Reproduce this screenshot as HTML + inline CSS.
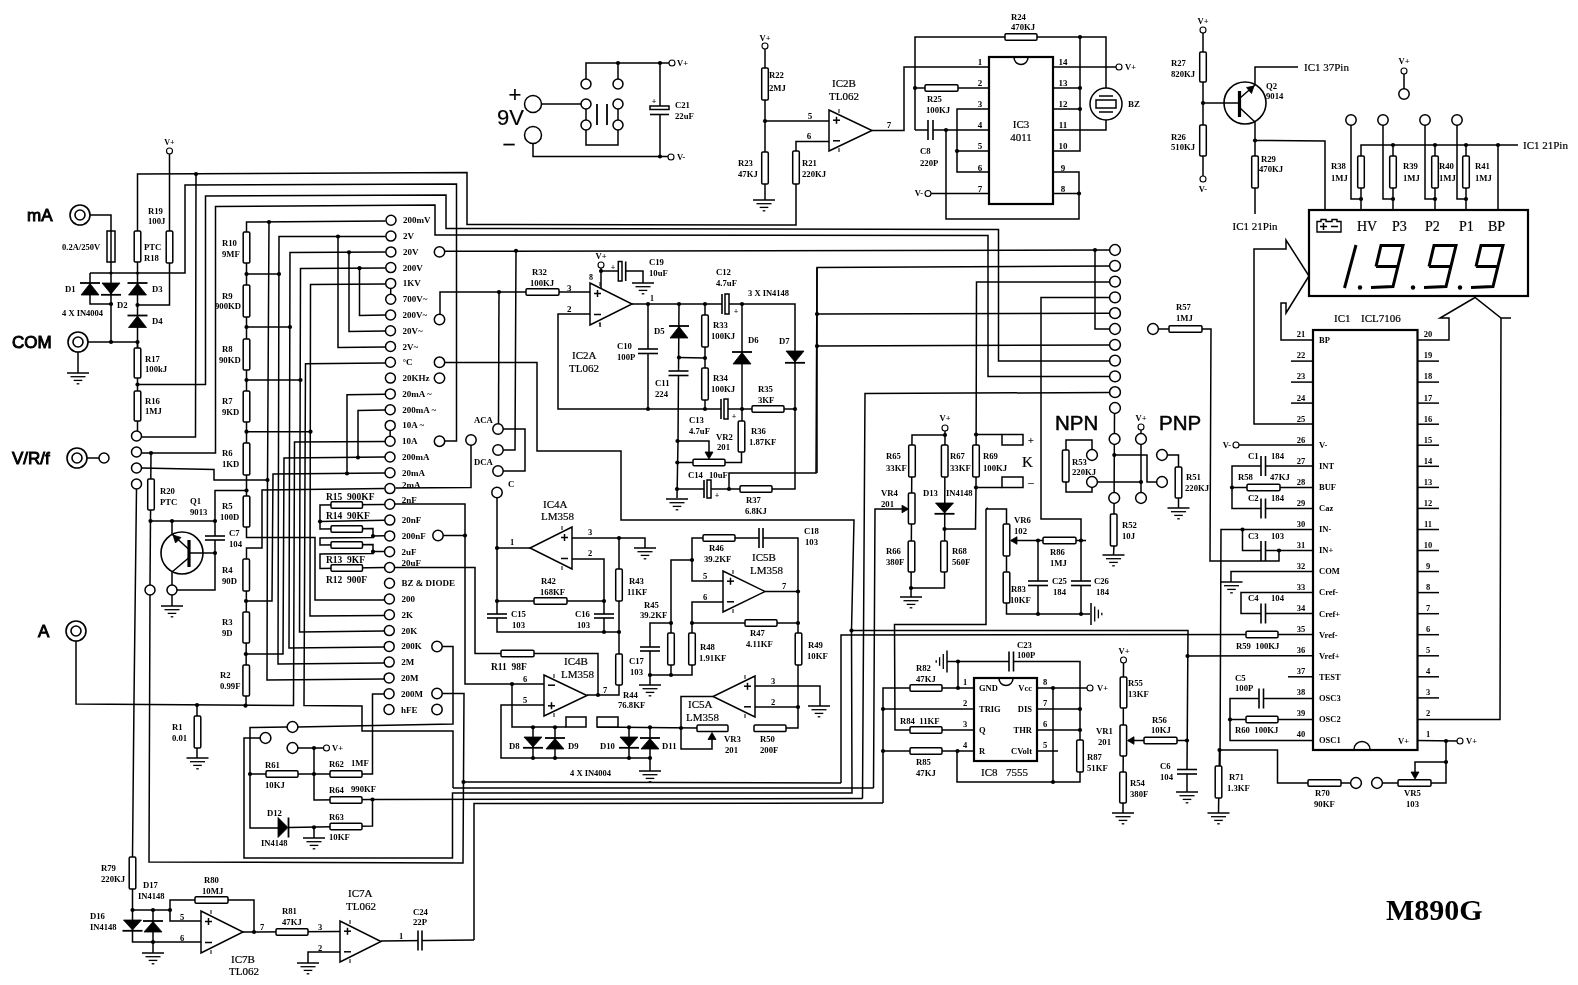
<!DOCTYPE html>
<html><head><meta charset="utf-8"><title>M890G</title>
<style>html,body{margin:0;padding:0;background:#fff;font-family:"Liberation Serif",serif}svg{display:block;filter:grayscale(1)}</style></head>
<body>
<svg width="1578" height="985" viewBox="0 0 1578 985">
<rect x="0" y="0" width="1578" height="985" fill="#fff" stroke="none"/>
<g fill="none" stroke="#000" stroke-width="1.5" stroke-linejoin="miter" stroke-linecap="butt">
<circle cx="80" cy="215" r="10" fill="#fff" stroke-width="1.6"/>
<circle cx="80" cy="215" r="5" fill="#fff" stroke-width="1.6"/>
<circle cx="78" cy="342" r="10" fill="#fff" stroke-width="1.6"/>
<circle cx="78" cy="342" r="5" fill="#fff" stroke-width="1.6"/>
<circle cx="77" cy="458" r="10" fill="#fff" stroke-width="1.6"/>
<circle cx="77" cy="458" r="5" fill="#fff" stroke-width="1.6"/>
<circle cx="76" cy="631" r="10" fill="#fff" stroke-width="1.6"/>
<circle cx="76" cy="631" r="5" fill="#fff" stroke-width="1.6"/>
<polyline points="169.5,154 169.5,305 137.5,305"/>
<circle cx="169.5" cy="151" r="3" fill="#fff" stroke-width="1.1"/>
<rect x="166.2" y="231" width="6.6" height="32" fill="#fff" rx="1.2"/>
<polyline points="137.5,348 137.5,174 467,172.5 467,224.5 796,225 796,141.5 829,141.5"/>
<circle cx="196" cy="174" r="2.1" fill="#000" stroke="none"/>
<polyline points="196,174 195.5,437 141.5,437"/>
<polyline points="90,273 185,273 185,185 456.5,184 456.5,441 444.5,441"/>
<polyline points="137.5,384.5 205.5,384.5 205.5,196 446,195 446,228.5 998.5,229.5 998.5,361 1109.5,361"/>
<polyline points="141.5,453 215.5,453 215.5,206.5 435,205 435,235 988,235.5 988,376.5 1109.5,376.5"/>
<polyline points="90,215 111,215 111,342"/>
<rect x="107" y="231" width="8" height="31" fill="#fff"/>
<polyline points="111,231 111,262"/>
<rect x="134.2" y="231" width="6.6" height="31" fill="#fff" rx="1.2"/>
<polyline points="90,273 90,304 111,304"/>
<circle cx="111" cy="304" r="2.1" fill="#000" stroke="none"/>
<circle cx="137.5" cy="305" r="2.1" fill="#000" stroke="none"/>
<circle cx="111" cy="273" r="1.6" fill="#000" stroke="none"/>
<circle cx="137.5" cy="273" r="1.6" fill="#000" stroke="none"/>
<polyline points="80,283 100,283" stroke-width="1.8"/>
<polygon points="90,283.5 81,295 99,295" fill="#000" stroke-width="0.8"/>
<polygon points="102,283 120,283 111,294" fill="#000" stroke-width="0.8"/>
<polyline points="101,294.8 121,294.8" stroke-width="1.8"/>
<polyline points="127.5,283 147.5,283" stroke-width="1.8"/>
<polygon points="137.5,283.5 128.5,295 146.5,295" fill="#000" stroke-width="0.8"/>
<polyline points="127.5,315.5 147.5,315.5" stroke-width="1.8"/>
<polygon points="137.5,316 128.5,327.5 146.5,327.5" fill="#000" stroke-width="0.8"/>
<polyline points="88,342 137.5,342"/>
<circle cx="111" cy="342" r="2.1" fill="#000" stroke="none"/>
<circle cx="137.5" cy="342" r="2.1" fill="#000" stroke="none"/>
<polyline points="78,352 78,373"/>
<polyline points="67,373 89,373"/>
<polyline points="70.5,376.7 85.5,376.7" stroke-width="1.3"/>
<polyline points="73.7,380.4 82.3,380.4" stroke-width="1.3"/>
<polyline points="76.7,383.8 79.3,383.8" stroke-width="1.3"/>
<polyline points="137.5,342 137.5,431"/>
<rect x="134.2" y="348" width="6.6" height="30" fill="#fff" rx="1.2"/>
<circle cx="137.5" cy="384.5" r="2.1" fill="#000" stroke="none"/>
<rect x="134.2" y="391" width="6.6" height="30" fill="#fff" rx="1.2"/>
<polyline points="87,458 99,458"/>
<circle cx="104" cy="458" r="5" fill="#fff"/>
<polyline points="136.5,489 134,700 132.5,857"/>
<polyline points="141.5,468 214,469.5 214,480 267.5,480"/>
<circle cx="267.5" cy="480" r="2.1" fill="#000" stroke="none"/>
<circle cx="151" cy="453" r="2.1" fill="#000" stroke="none"/>
<polyline points="151,453 150,585"/>
<rect x="147.7" y="479" width="6.6" height="31" fill="#fff" rx="1.2"/>
<polyline points="150,595 149,862 463,863 464,693.5 442,693.5"/>
<circle cx="150.5" cy="521" r="2.1" fill="#000" stroke="none"/>
<polyline points="150.5,521 215,521"/>
<circle cx="172" cy="521" r="2.1" fill="#000" stroke="none"/>
<circle cx="215" cy="521" r="2.1" fill="#000" stroke="none"/>
<polyline points="246.5,490.5 215,490.5 215,590 177,590"/>
<circle cx="246.5" cy="490.5" r="2.1" fill="#000" stroke="none"/>
<rect x="213" y="536" width="4" height="4" fill="#fff" stroke-width="0"/>
<rect x="213" y="536" width="4" height="4" fill="#fff" stroke="none"/>
<polyline points="205,536 225,536" stroke-width="1.6"/>
<polyline points="205,540 225,540" stroke-width="1.6"/>
<circle cx="182" cy="553" r="21" fill="none" stroke-width="1.6"/>
<polyline points="172,521 172,534 188.5,549"/>
<polygon points="173,535 181,537.5 175.5,543" fill="#000" stroke-width="0.8"/>
<polyline points="189,540 189,567" stroke-width="3.2"/>
<polyline points="189,553 215,553"/>
<circle cx="215" cy="553" r="2.1" fill="#000" stroke="none"/>
<polyline points="188.5,558 172,572 172,585"/>
<polyline points="172,595 172,606"/>
<polyline points="161,606 183,606"/>
<polyline points="164.5,609.7 179.5,609.7" stroke-width="1.3"/>
<polyline points="167.7,613.4 176.3,613.4" stroke-width="1.3"/>
<polyline points="170.7,616.8 173.3,616.8" stroke-width="1.3"/>
<circle cx="136.5" cy="436" r="5" fill="#fff"/>
<circle cx="136.5" cy="452" r="5" fill="#fff"/>
<circle cx="136.5" cy="468" r="5" fill="#fff"/>
<circle cx="136.5" cy="484" r="5" fill="#fff"/>
<circle cx="150" cy="590" r="5" fill="#fff"/>
<circle cx="172" cy="590" r="5" fill="#fff"/>
<polyline points="76,641 76,704 293.5,705.5 294.5,442 385.5,441.5"/>
<circle cx="197" cy="705" r="2.1" fill="#000" stroke="none"/>
<polyline points="197,705 197,758"/>
<rect x="194.2" y="716" width="6.6" height="32" fill="#fff" rx="1.2"/>
<polyline points="186.5,758 208.5,758"/>
<polyline points="190,761.7 205,761.7" stroke-width="1.3"/>
<polyline points="193.2,765.4 201.8,765.4" stroke-width="1.3"/>
<polyline points="196.2,768.8 198.8,768.8" stroke-width="1.3"/>
<polyline points="385.5,221 246.5,222 246.5,537.5 315,537.5 315,600 384,600"/>
<circle cx="269" cy="222" r="2.1" fill="#000" stroke="none"/>
<rect x="243.2" y="232" width="6.6" height="31" fill="#fff" rx="1.2"/>
<rect x="243.2" y="285" width="6.6" height="32" fill="#fff" rx="1.2"/>
<rect x="243.2" y="339" width="6.6" height="31" fill="#fff" rx="1.2"/>
<rect x="243.2" y="391" width="6.6" height="31" fill="#fff" rx="1.2"/>
<rect x="243.2" y="443" width="6.6" height="32" fill="#fff" rx="1.2"/>
<rect x="243.2" y="496" width="6.6" height="31" fill="#fff" rx="1.2"/>
<circle cx="246.5" cy="274" r="2.1" fill="#000" stroke="none"/>
<polyline points="246.5,274 279,274"/>
<circle cx="279" cy="274" r="2.1" fill="#000" stroke="none"/>
<circle cx="246.5" cy="327" r="2.1" fill="#000" stroke="none"/>
<polyline points="246.5,327 290,327"/>
<circle cx="290" cy="327" r="2.1" fill="#000" stroke="none"/>
<circle cx="246.5" cy="380" r="2.1" fill="#000" stroke="none"/>
<polyline points="246.5,380 300.5,380"/>
<circle cx="300.5" cy="380" r="2.1" fill="#000" stroke="none"/>
<circle cx="246.5" cy="431.7" r="2.1" fill="#000" stroke="none"/>
<polyline points="246.5,431.7 310.5,431.7"/>
<circle cx="310.5" cy="431.7" r="2.1" fill="#000" stroke="none"/>
<polyline points="384.5,488.5 262,490 262,548 246.5,548 246,706"/>
<rect x="242.9" y="559" width="6.6" height="32" fill="#fff" rx="1.2"/>
<rect x="242.9" y="612" width="6.6" height="31" fill="#fff" rx="1.2"/>
<rect x="242.9" y="665" width="6.6" height="31" fill="#fff" rx="1.2"/>
<circle cx="246" cy="601" r="2.1" fill="#000" stroke="none"/>
<circle cx="245.8" cy="654" r="2.1" fill="#000" stroke="none"/>
<circle cx="245.5" cy="705.7" r="2.1" fill="#000" stroke="none"/>
<polyline points="246,601 272,601 273,474 385,473"/>
<polyline points="245.8,654 283,654 284,458 385,457"/>
<polyline points="269,222 267.5,480 267,680 384,679"/>
<polyline points="385.5,236.5 279,236.5 278,664 384,663"/>
<circle cx="338" cy="236.5" r="2.1" fill="#000" stroke="none"/>
<polyline points="385.5,252 290,252.5 289,648 384,647"/>
<circle cx="349" cy="252.3" r="2.1" fill="#000" stroke="none"/>
<polyline points="385.5,268 300.5,268.5 299.5,632 384,631"/>
<circle cx="359.5" cy="268.2" r="2.1" fill="#000" stroke="none"/>
<polyline points="385.5,284 310.5,284.5 310,616 384,615.5"/>
<polyline points="385.5,363 305.5,363.8 304,705.5 362,706 362,731 453,731 453,788"/>
<polyline points="338,236.5 338,347.5 385.5,347"/>
<polyline points="349,252.3 349,331.5 385.5,331"/>
<polyline points="359.5,268.2 359.5,315.5 385.5,315"/>
<polyline points="385.5,394.3 347,394.7 347,473.5"/>
<circle cx="347" cy="473.5" r="2.1" fill="#000" stroke="none"/>
<polyline points="385.5,410 358,410.5 358,457.5"/>
<circle cx="358" cy="457.5" r="2.1" fill="#000" stroke="none"/>
<polyline points="390.7,283.4 390.7,299.2"/>
<polyline points="390.2,425.4 390.1,441.2"/>
<polyline points="395,504 465,504 465,684 544,684"/>
<circle cx="465" cy="535.5" r="2.1" fill="#000" stroke="none"/>
<polyline points="443,535.5 465,535.5"/>
<polyline points="395,567.5 475,567.5 475,653.5 598,653.5 598,695"/>
<rect x="501" y="650.2" width="33" height="6.6" fill="#fff" rx="1.2"/>
<polyline points="385,504.5 320,505 320,529 373,528.5 373,536 385,535.7"/>
<circle cx="320" cy="521.5" r="2.1" fill="#000" stroke="none"/>
<polyline points="320,521.5 385,520.3"/>
<polyline points="373,536 373,537.5 320,538 320,545 373,544.5 373,551.5 385,551.5"/>
<circle cx="373" cy="536" r="2.1" fill="#000" stroke="none"/>
<circle cx="373" cy="551.7" r="2.1" fill="#000" stroke="none"/>
<polyline points="373,552 373,553.5 320,554 320,568.5 385,567.5"/>
<rect x="331" y="501.8" width="31.5" height="6.5" fill="#fff" rx="1.2"/>
<rect x="331" y="525.8" width="31.5" height="6.5" fill="#fff" rx="1.2"/>
<rect x="331" y="541.8" width="31.5" height="6.5" fill="#fff" rx="1.2"/>
<rect x="331" y="564.8" width="31.5" height="6.5" fill="#fff" rx="1.2"/>
<circle cx="391" cy="220.3" r="5" fill="#fff"/>
<circle cx="390.9" cy="236.1" r="5" fill="#fff"/>
<circle cx="390.9" cy="251.9" r="5" fill="#fff"/>
<circle cx="390.8" cy="267.6" r="5" fill="#fff"/>
<circle cx="390.7" cy="283.4" r="5" fill="#fff"/>
<circle cx="390.7" cy="299.2" r="5" fill="#fff"/>
<circle cx="390.6" cy="315" r="5" fill="#fff"/>
<circle cx="390.5" cy="330.8" r="5" fill="#fff"/>
<circle cx="390.5" cy="346.5" r="5" fill="#fff"/>
<circle cx="390.4" cy="362.3" r="5" fill="#fff"/>
<circle cx="390.4" cy="378.1" r="5" fill="#fff"/>
<circle cx="390.3" cy="393.9" r="5" fill="#fff"/>
<circle cx="390.2" cy="409.7" r="5" fill="#fff"/>
<circle cx="390.2" cy="425.4" r="5" fill="#fff"/>
<circle cx="390.1" cy="441.2" r="5" fill="#fff"/>
<circle cx="390" cy="457" r="5" fill="#fff"/>
<circle cx="390" cy="472.8" r="5" fill="#fff"/>
<circle cx="389.9" cy="488.6" r="5" fill="#fff"/>
<circle cx="389.8" cy="504.3" r="5" fill="#fff"/>
<circle cx="389.8" cy="520.1" r="5" fill="#fff"/>
<circle cx="389.7" cy="535.9" r="5" fill="#fff"/>
<circle cx="389.6" cy="551.7" r="5" fill="#fff"/>
<circle cx="389.6" cy="567.5" r="5" fill="#fff"/>
<circle cx="389.5" cy="583.2" r="5" fill="#fff"/>
<circle cx="389.4" cy="599" r="5" fill="#fff"/>
<circle cx="389.4" cy="614.8" r="5" fill="#fff"/>
<circle cx="389.3" cy="630.6" r="5" fill="#fff"/>
<circle cx="389.2" cy="646.4" r="5" fill="#fff"/>
<circle cx="389.2" cy="662.1" r="5" fill="#fff"/>
<circle cx="389.1" cy="677.9" r="5" fill="#fff"/>
<circle cx="389.1" cy="693.7" r="5" fill="#fff"/>
<circle cx="389" cy="709.5" r="5" fill="#fff"/>
<polyline points="444.5,251.3 1109.5,250"/>
<circle cx="516" cy="250.8" r="2.1" fill="#000" stroke="none"/>
<polyline points="516,250.8 515,450 503,450"/>
<polyline points="440,314.5 440,292 590,292"/>
<circle cx="499" cy="292" r="2.1" fill="#000" stroke="none"/>
<rect x="526" y="288.7" width="33" height="6.6" fill="#fff" rx="1.2"/>
<polyline points="499,292 498.5,424"/>
<polyline points="444.5,362.5 537,362.5 537,451 621,451 621,520 854,520 851.5,630.5"/>
<polyline points="471,445 471,487.5 395.5,488"/>
<polyline points="442,646.5 453,646.5 453,724 297,727"/>
<circle cx="439.5" cy="251.9" r="5.2" fill="#fff"/>
<circle cx="439.5" cy="319.5" r="5.2" fill="#fff"/>
<circle cx="439.5" cy="362.3" r="5.2" fill="#fff"/>
<circle cx="439.5" cy="378.1" r="5.2" fill="#fff"/>
<circle cx="439.5" cy="441.2" r="5.2" fill="#fff"/>
<circle cx="471" cy="440" r="5.2" fill="#fff"/>
<circle cx="438" cy="535.5" r="5.2" fill="#fff"/>
<circle cx="437" cy="646.5" r="5.2" fill="#fff"/>
<circle cx="437" cy="693.5" r="5.2" fill="#fff"/>
<circle cx="437" cy="709.5" r="5.2" fill="#fff"/>
<polyline points="503,429 525,429 525,471 503,471"/>
<polyline points="497,497.5 497,614"/>
<circle cx="498" cy="429" r="5.2" fill="#fff"/>
<circle cx="498" cy="450" r="5.2" fill="#fff"/>
<circle cx="498" cy="471" r="5.2" fill="#fff"/>
<circle cx="497" cy="492.5" r="5.2" fill="#fff"/>
<polyline points="542,104 581,104"/>
<polyline points="586,79 586,63 669,63"/>
<polyline points="618,63 618,79"/>
<circle cx="618" cy="63" r="2.1" fill="#000" stroke="none"/>
<circle cx="660" cy="63" r="2.1" fill="#000" stroke="none"/>
<polyline points="586,109 586,120"/>
<polyline points="618,109 618,120"/>
<polyline points="586,130 586,145 618,145 618,130"/>
<polyline points="597,104 597,125" stroke-width="1.8"/>
<polyline points="607,104 607,125" stroke-width="1.8"/>
<polyline points="533,143 533,156.5 668,156.5"/>
<circle cx="660" cy="156.5" r="2.1" fill="#000" stroke="none"/>
<polyline points="660,63 660,156.5"/>
<rect x="656" y="107" width="8" height="7.5" fill="#fff" stroke="none"/>
<rect x="650" y="106" width="19" height="3.5" fill="#fff"/>
<polyline points="650,114.5 669,114.5" stroke-width="1.6"/>
<circle cx="533" cy="104" r="8.5" fill="#fff"/>
<circle cx="533" cy="135" r="8.5" fill="#fff"/>
<circle cx="586" cy="84" r="5" fill="#fff"/>
<circle cx="586" cy="104" r="5" fill="#fff"/>
<circle cx="586" cy="125" r="5" fill="#fff"/>
<circle cx="618" cy="84" r="5" fill="#fff"/>
<circle cx="618" cy="104" r="5" fill="#fff"/>
<circle cx="618" cy="125" r="5" fill="#fff"/>
<circle cx="672" cy="63" r="3" fill="#fff" stroke-width="1.1"/>
<circle cx="671" cy="157" r="3" fill="#fff" stroke-width="1.1"/>
<polyline points="765,49 765,200"/>
<circle cx="765" cy="46" r="3" fill="#fff" stroke-width="1.1"/>
<rect x="761.7" y="68" width="6.6" height="32" fill="#fff" rx="1.2"/>
<rect x="761.7" y="152" width="6.6" height="32" fill="#fff" rx="1.2"/>
<circle cx="765" cy="121" r="2.1" fill="#000" stroke="none"/>
<polyline points="753,200 775,200"/>
<polyline points="756.5,203.7 771.5,203.7" stroke-width="1.3"/>
<polyline points="759.7,207.4 768.3,207.4" stroke-width="1.3"/>
<polyline points="762.7,210.8 765.3,210.8" stroke-width="1.3"/>
<polyline points="765,121 829,121"/>
<rect x="792.7" y="151" width="6.6" height="33" fill="#fff" rx="1.2"/>
<polygon points="829,110 829,151 872,130.5" fill="#fff"/>
<polyline points="833,120.2 840,120.2"/>
<polyline points="836.5,116.8 836.5,123.8"/>
<polyline points="833,140.8 840,140.8"/>
<polyline points="839,109 839,113" stroke-width="1"/>
<polyline points="839,148 839,152" stroke-width="1"/>
<polyline points="872,130.5 904,130.5 904,67 989,67"/>
<polyline points="915,130 915,37 1106,37 1106,88"/>
<rect x="1005" y="33.7" width="32" height="6.6" fill="#fff" rx="1.2"/>
<circle cx="915" cy="88" r="2.1" fill="#000" stroke="none"/>
<circle cx="1080" cy="37" r="2.1" fill="#000" stroke="none"/>
<polyline points="915,88 989,88"/>
<rect x="925" y="84.7" width="33" height="6.6" fill="#fff" rx="1.2"/>
<polyline points="915,130 989,130"/>
<rect x="928" y="128" width="5" height="4" fill="#fff" stroke="none"/>
<polyline points="928,120 928,140" stroke-width="1.6"/>
<polyline points="933,120 933,140" stroke-width="1.6"/>
<circle cx="946" cy="130" r="2.1" fill="#000" stroke="none"/>
<polyline points="946,130 946,219 1079,219 1079,172 1053,172"/>
<polyline points="1053,193.5 1079,193.5"/>
<circle cx="1079" cy="193.5" r="2.1" fill="#000" stroke="none"/>
<polyline points="989,109 957,109 957,172 989,172"/>
<polyline points="957,151 989,151"/>
<circle cx="957" cy="151" r="2.1" fill="#000" stroke="none"/>
<polyline points="931,193.5 989,193.5"/>
<circle cx="928" cy="193.5" r="3" fill="#fff" stroke-width="1.1"/>
<polyline points="1053,67 1116,67"/>
<circle cx="1119" cy="67" r="3" fill="#fff" stroke-width="1.1"/>
<polyline points="1080,37 1080,151 1053,151"/>
<polyline points="1053,88 1080,88"/>
<polyline points="1053,109 1080,109"/>
<circle cx="1080" cy="88" r="2.1" fill="#000" stroke="none"/>
<circle cx="1080" cy="109" r="2.1" fill="#000" stroke="none"/>
<polyline points="1053,130 1106,130 1106,120"/>
<circle cx="1106" cy="104" r="16" fill="#fff" stroke-width="1.5"/>
<rect x="1096" y="100" width="20" height="8" fill="#fff" stroke-width="1.5"/>
<polyline points="1099,96 1113,96"/>
<polyline points="1099,112 1113,112"/>
<rect x="989" y="57" width="64" height="147" fill="#fff" stroke-width="2.2"/>
<path d="M1014,57.5 A7,7 0 0 0 1028,57.5" fill="none" stroke-width="1.5"/>
<polyline points="1203,33 1203,176"/>
<circle cx="1203" cy="30" r="3" fill="#fff" stroke-width="1.1"/>
<circle cx="1203" cy="179" r="3" fill="#fff" stroke-width="1.1"/>
<rect x="1199.7" y="52" width="6.6" height="30" fill="#fff" rx="1.2"/>
<rect x="1199.7" y="125" width="6.6" height="31" fill="#fff" rx="1.2"/>
<circle cx="1203" cy="103" r="2.1" fill="#000" stroke="none"/>
<polyline points="1203,103 1239,103"/>
<polyline points="1239.5,91 1239.5,117" stroke-width="3.2"/>
<circle cx="1245" cy="103" r="21" fill="none" stroke-width="1.6"/>
<polyline points="1240,98 1255,85 1255,67 1298,67"/>
<polygon points="1254,86 1246.5,87.5 1251.5,93.5" fill="#000" stroke-width="0.8"/>
<polyline points="1240,108 1255,122 1255,214"/>
<circle cx="1255" cy="140.5" r="2.1" fill="#000" stroke="none"/>
<rect x="1251.7" y="156" width="6.6" height="32" fill="#fff" rx="1.2"/>
<polyline points="1255,140.5 1325,141 1325,209"/>
<polyline points="1404,74 1404,89"/>
<circle cx="1404" cy="71" r="3" fill="#fff" stroke-width="1.1"/>
<circle cx="1404" cy="94" r="5.2" fill="#fff"/>
<polyline points="1361,209 1361,145 1518,145"/>
<polyline points="1498,145 1498,209"/>
<circle cx="1498" cy="145" r="2.1" fill="#000" stroke="none"/>
<polyline points="1351,125 1351,199 1361,199"/>
<circle cx="1361" cy="199" r="2.1" fill="#000" stroke="none"/>
<rect x="1357.7" y="156" width="6.6" height="32" fill="#fff" rx="1.2"/>
<circle cx="1351" cy="120" r="5.2" fill="#fff"/>
<polyline points="1383,125 1383,199 1393,199"/>
<polyline points="1393,145 1393,209"/>
<circle cx="1393" cy="145" r="2.1" fill="#000" stroke="none"/>
<circle cx="1393" cy="199" r="2.1" fill="#000" stroke="none"/>
<rect x="1389.7" y="156" width="6.6" height="32" fill="#fff" rx="1.2"/>
<circle cx="1383" cy="120" r="5.2" fill="#fff"/>
<polyline points="1425,125 1425,199 1435,199"/>
<polyline points="1435,145 1435,209"/>
<circle cx="1435" cy="145" r="2.1" fill="#000" stroke="none"/>
<circle cx="1435" cy="199" r="2.1" fill="#000" stroke="none"/>
<rect x="1431.7" y="156" width="6.6" height="32" fill="#fff" rx="1.2"/>
<circle cx="1425" cy="120" r="5.2" fill="#fff"/>
<polyline points="1457,125 1457,199 1466,199"/>
<polyline points="1466,145 1466,209"/>
<circle cx="1466" cy="145" r="2.1" fill="#000" stroke="none"/>
<circle cx="1466" cy="199" r="2.1" fill="#000" stroke="none"/>
<rect x="1462.7" y="156" width="6.6" height="32" fill="#fff" rx="1.2"/>
<circle cx="1457" cy="120" r="5.2" fill="#fff"/>
<rect x="1309" y="210" width="219" height="86" fill="#fff" stroke-width="2.2"/>
<path d="M1317,232 V221.5 H1321 V219.5 H1326 V221.5 H1332 V219.5 H1337 V221.5 H1341 V232 Z" fill="none" stroke-width="1.4"/>
<polyline points="1320,226.5 1327,226.5" stroke-width="1.5"/>
<polyline points="1323.5,223 1323.5,230" stroke-width="1.5"/>
<polyline points="1331,226.5 1338,226.5" stroke-width="1.5"/>
<polyline points="1356,245 1344.5,288" stroke-width="3"/>
<path d="M1376,266.5 L1381,245.5 L1403,245.5 L1393,286.5 L1371,287.5 M1376,266.5 L1398,266.5" fill="none" stroke-width="3"/>
<path d="M1429,266.5 L1434,245.5 L1456,245.5 L1446,286.5 L1424,287.5 M1429,266.5 L1451,266.5" fill="none" stroke-width="3"/>
<path d="M1476,266.5 L1481,245.5 L1503,245.5 L1493,286.5 L1471,287.5 M1476,266.5 L1498,266.5" fill="none" stroke-width="3"/>
<circle cx="1360" cy="287.5" r="2.2" fill="#000" stroke="none"/>
<circle cx="1413" cy="287.5" r="2.2" fill="#000" stroke="none"/>
<circle cx="1460" cy="287.5" r="2.2" fill="#000" stroke="none"/>
<polyline points="1313,424 1254,424 1254,249 1286,249 1286,240 1309,276 1286,313 1286,303 1281,303 1281,340 1313,340"/>
<polyline points="1418,340 1449,340 1449,318 1440,318 1475,297.5 1501,318 1511,318"/>
<polyline points="1501,318 1500,719.5 1417,719.5"/>
<polyline points="601,268 601,289"/>
<circle cx="601" cy="271" r="2.1" fill="#000" stroke="none"/>
<polyline points="601,271 643,271 643,283"/>
<polyline points="632,283 654,283"/>
<polyline points="635.5,286.7 650.5,286.7" stroke-width="1.3"/>
<polyline points="638.7,290.4 647.3,290.4" stroke-width="1.3"/>
<polyline points="641.7,293.8 644.3,293.8" stroke-width="1.3"/>
<rect x="618" y="269" width="8" height="4" fill="#fff" stroke="none"/>
<rect x="618.3" y="261.5" width="3.7" height="19.5" fill="#fff"/>
<polyline points="625.7,261.5 625.7,281" stroke-width="1.6"/>
<circle cx="601" cy="265" r="3" fill="#fff" stroke-width="1.1"/>
<polyline points="590,314 558,314 558,409 721,409"/>
<circle cx="648" cy="409" r="2.1" fill="#000" stroke="none"/>
<circle cx="705" cy="409" r="2.1" fill="#000" stroke="none"/>
<polygon points="590,283 590,325 632,304" fill="#fff"/>
<polyline points="594,293.5 601,293.5"/>
<polyline points="597.5,290 597.5,297"/>
<polyline points="594,314.5 601,314.5"/>
<polyline points="600,282 600,286" stroke-width="1"/>
<polyline points="600,322 600,326" stroke-width="1"/>
<polyline points="632,304 722,304"/>
<circle cx="648" cy="304" r="2.1" fill="#000" stroke="none"/>
<circle cx="679" cy="304" r="2.1" fill="#000" stroke="none"/>
<circle cx="705" cy="304" r="2.1" fill="#000" stroke="none"/>
<polyline points="648,304 648,409"/>
<rect x="646" y="349" width="4" height="4.5" fill="#fff" stroke-width="0"/>
<rect x="646" y="349" width="4" height="4.5" fill="#fff" stroke="none"/>
<polyline points="638,349 658,349" stroke-width="1.6"/>
<polyline points="638,353.5 658,353.5" stroke-width="1.6"/>
<polyline points="679,304 678,441 677,498"/>
<polyline points="669,326 689,326" stroke-width="1.8"/>
<polygon points="679,326.5 670,338 688,338" fill="#000" stroke-width="0.8"/>
<circle cx="679" cy="357.5" r="2.1" fill="#000" stroke="none"/>
<rect x="676.5" y="371" width="4" height="4.5" fill="#fff" stroke-width="0"/>
<rect x="676.5" y="371" width="4" height="4.5" fill="#fff" stroke="none"/>
<polyline points="668.5,371 688.5,371" stroke-width="1.6"/>
<polyline points="668.5,375.5 688.5,375.5" stroke-width="1.6"/>
<polyline points="705,304 705,409"/>
<rect x="701.7" y="315" width="6.6" height="32" fill="#fff" rx="1.2"/>
<rect x="701.7" y="368" width="6.6" height="32" fill="#fff" rx="1.2"/>
<circle cx="705" cy="358" r="2.1" fill="#000" stroke="none"/>
<polyline points="679,357.5 705,358"/>
<polyline points="729,304 795,304 795,489 772,489"/>
<rect x="722" y="302" width="7" height="4" fill="#fff" stroke="none"/>
<polyline points="722,294 722,314" stroke-width="1.6"/>
<rect x="725" y="294" width="4" height="20" fill="#fff"/>
<circle cx="742" cy="304" r="2.1" fill="#000" stroke="none"/>
<polyline points="742,304 742,421"/>
<polyline points="732,352 752,352" stroke-width="1.8"/>
<polygon points="742,352.5 733,364 751,364" fill="#000" stroke-width="0.8"/>
<polygon points="786,351 804,351 795,362" fill="#000" stroke-width="0.8"/>
<polyline points="785,362.8 805,362.8" stroke-width="1.8"/>
<polyline points="728,409 795,409"/>
<rect x="721" y="407" width="7" height="4" fill="#fff" stroke="none"/>
<polyline points="721,399 721,419" stroke-width="1.6"/>
<rect x="724" y="399" width="4" height="20" fill="#fff"/>
<circle cx="742" cy="409" r="2.1" fill="#000" stroke="none"/>
<circle cx="795" cy="409" r="2.1" fill="#000" stroke="none"/>
<rect x="752" y="405.7" width="32" height="6.6" fill="#fff" rx="1.2"/>
<rect x="738.2" y="421" width="6.6" height="31" fill="#fff" rx="1.2"/>
<polyline points="741.5,452 741.5,462.5 677,462.5"/>
<rect x="693" y="459.2" width="32" height="6.6" fill="#fff" rx="1.2"/>
<circle cx="677.5" cy="441" r="2.1" fill="#000" stroke="none"/>
<polyline points="677.5,441 709,441 709,453"/>
<polygon points="709,459 705,452 713,452" fill="#000" stroke-width="0.8"/>
<circle cx="677.3" cy="462.5" r="2.1" fill="#000" stroke="none"/>
<circle cx="677" cy="489" r="2.1" fill="#000" stroke="none"/>
<polyline points="677,489 740,489"/>
<rect x="704" y="487" width="7" height="4" fill="#fff" stroke="none"/>
<polyline points="704,480 704,498" stroke-width="1.6"/>
<rect x="707" y="480" width="4" height="18" fill="#fff"/>
<circle cx="729" cy="489" r="2.1" fill="#000" stroke="none"/>
<rect x="740" y="485.7" width="32" height="6.6" fill="#fff" rx="1.2"/>
<polyline points="729,489 729,473 816,473 817,268"/>
<polyline points="666,499 688,499"/>
<polyline points="669.5,502.7 684.5,502.7" stroke-width="1.3"/>
<polyline points="672.7,506.4 681.3,506.4" stroke-width="1.3"/>
<polyline points="675.7,509.8 678.3,509.8" stroke-width="1.3"/>
<circle cx="497" cy="548" r="2.1" fill="#000" stroke="none"/>
<polyline points="497,548 530,548"/>
<polygon points="572,527 572,569 530,548" fill="#fff"/>
<polyline points="561,537.5 568,537.5"/>
<polyline points="564.5,534 564.5,541"/>
<polyline points="561,558.5 568,558.5"/>
<polyline points="562,526 562,530" stroke-width="1"/>
<polyline points="562,566 562,570" stroke-width="1"/>
<polyline points="572,538 645,538 645,548"/>
<polyline points="634,548 656,548"/>
<polyline points="637.5,551.7 652.5,551.7" stroke-width="1.3"/>
<polyline points="640.7,555.4 649.3,555.4" stroke-width="1.3"/>
<polyline points="643.7,558.8 646.3,558.8" stroke-width="1.3"/>
<circle cx="619" cy="538" r="2.1" fill="#000" stroke="none"/>
<polyline points="572,559 604,559 604,632"/>
<polyline points="497,601 604,601"/>
<circle cx="497" cy="601" r="2.1" fill="#000" stroke="none"/>
<circle cx="604" cy="601" r="2.1" fill="#000" stroke="none"/>
<rect x="534" y="597.7" width="33" height="6.6" fill="#fff" rx="1.2"/>
<polyline points="497,614 497,632 619,632 619,538"/>
<rect x="495" y="614" width="4" height="4" fill="#fff" stroke-width="0"/>
<rect x="495" y="614" width="4" height="4" fill="#fff" stroke="none"/>
<polyline points="487,614 507,614" stroke-width="1.6"/>
<polyline points="487,618 507,618" stroke-width="1.6"/>
<rect x="602" y="614" width="4" height="4" fill="#fff" stroke-width="0"/>
<rect x="602" y="614" width="4" height="4" fill="#fff" stroke="none"/>
<polyline points="594,614 614,614" stroke-width="1.6"/>
<polyline points="594,618 614,618" stroke-width="1.6"/>
<circle cx="604" cy="632" r="2.1" fill="#000" stroke="none"/>
<circle cx="619" cy="632" r="2.1" fill="#000" stroke="none"/>
<rect x="615.7" y="569" width="6.6" height="32" fill="#fff" rx="1.2"/>
<polyline points="619,632 619,695 587,695"/>
<rect x="615.7" y="654" width="6.6" height="31" fill="#fff" rx="1.2"/>
<circle cx="598" cy="695" r="2.1" fill="#000" stroke="none"/>
<circle cx="512" cy="684" r="2.1" fill="#000" stroke="none"/>
<polygon points="544,675 544,716 587,695.5" fill="#fff"/>
<polyline points="548,705.8 555,705.8"/>
<polyline points="551.5,702.2 551.5,709.2"/>
<polyline points="548,685.2 555,685.2"/>
<polyline points="554,674 554,678" stroke-width="1"/>
<polyline points="554,713 554,717" stroke-width="1"/>
<polyline points="544,705 501,705 501,758 650,758 650,771"/>
<polyline points="639,771 661,771"/>
<polyline points="642.5,774.7 657.5,774.7" stroke-width="1.3"/>
<polyline points="645.7,778.4 654.3,778.4" stroke-width="1.3"/>
<polyline points="648.7,781.8 651.3,781.8" stroke-width="1.3"/>
<polyline points="512,684 512,727 566,727"/>
<polyline points="597,727 697,728"/>
<rect x="566" y="717" width="20" height="10" fill="#fff"/>
<rect x="597" y="717" width="21" height="10" fill="#fff"/>
<polyline points="533,727 533,758"/>
<circle cx="533" cy="727.3" r="2.1" fill="#000" stroke="none"/>
<circle cx="533" cy="758" r="2.1" fill="#000" stroke="none"/>
<polyline points="555,727 555,758"/>
<circle cx="555" cy="727.3" r="2.1" fill="#000" stroke="none"/>
<circle cx="555" cy="758" r="2.1" fill="#000" stroke="none"/>
<polyline points="629,727 629,758"/>
<circle cx="629" cy="727.3" r="2.1" fill="#000" stroke="none"/>
<circle cx="629" cy="758" r="2.1" fill="#000" stroke="none"/>
<polyline points="650,727 650,758"/>
<circle cx="650" cy="727.3" r="2.1" fill="#000" stroke="none"/>
<circle cx="650" cy="758" r="2.1" fill="#000" stroke="none"/>
<polygon points="524,737 542,737 533,747" fill="#000" stroke-width="0.8"/>
<polyline points="523,747.8 543,747.8" stroke-width="1.8"/>
<polyline points="545,738 565,738" stroke-width="1.8"/>
<polygon points="555,738.5 546,749 564,749" fill="#000" stroke-width="0.8"/>
<polygon points="620,737 638,737 629,747" fill="#000" stroke-width="0.8"/>
<polyline points="619,747.8 639,747.8" stroke-width="1.8"/>
<polyline points="640,738 660,738" stroke-width="1.8"/>
<polygon points="650,738.5 641,749 659,749" fill="#000" stroke-width="0.8"/>
<polyline points="723,581 692,581 692,538 798,538 798,728 786,728"/>
<rect x="703" y="534.7" width="32" height="6.6" fill="#fff" rx="1.2"/>
<rect x="759" y="536" width="4" height="4" fill="#fff" stroke="none"/>
<polyline points="759,528 759,548" stroke-width="1.6"/>
<polyline points="763,528 763,548" stroke-width="1.6"/>
<circle cx="692" cy="560" r="2.1" fill="#000" stroke="none"/>
<polyline points="692,560 671,560 671,675"/>
<polygon points="723,571 723,612 765,591.5" fill="#fff"/>
<polyline points="727,581.2 734,581.2"/>
<polyline points="730.5,577.8 730.5,584.8"/>
<polyline points="727,601.8 734,601.8"/>
<polyline points="733,570 733,574" stroke-width="1"/>
<polyline points="733,609 733,613" stroke-width="1"/>
<polyline points="765,591.5 798,591.5"/>
<circle cx="798" cy="591.5" r="2.1" fill="#000" stroke="none"/>
<polyline points="723,602 692,602 692,675 650,675 650,685"/>
<polyline points="639,685 661,685"/>
<polyline points="642.5,688.7 657.5,688.7" stroke-width="1.3"/>
<polyline points="645.7,692.4 654.3,692.4" stroke-width="1.3"/>
<polyline points="648.7,695.8 651.3,695.8" stroke-width="1.3"/>
<polyline points="692,623 798,623"/>
<circle cx="692" cy="623" r="2.1" fill="#000" stroke="none"/>
<circle cx="798" cy="623" r="2.1" fill="#000" stroke="none"/>
<rect x="745" y="619.7" width="32" height="6.6" fill="#fff" rx="1.2"/>
<polyline points="671,623 650,623 650,675"/>
<circle cx="671" cy="623" r="2.1" fill="#000" stroke="none"/>
<rect x="648" y="647" width="4" height="4" fill="#fff" stroke-width="0"/>
<rect x="648" y="647" width="4" height="4" fill="#fff" stroke="none"/>
<polyline points="640,647 660,647" stroke-width="1.6"/>
<polyline points="640,651 660,651" stroke-width="1.6"/>
<circle cx="650" cy="675" r="2.1" fill="#000" stroke="none"/>
<circle cx="671" cy="675" r="2.1" fill="#000" stroke="none"/>
<rect x="667.7" y="633" width="6.6" height="32" fill="#fff" rx="1.2"/>
<rect x="688.7" y="633" width="6.6" height="32" fill="#fff" rx="1.2"/>
<rect x="795.2" y="633" width="6.6" height="32" fill="#fff" rx="1.2"/>
<polygon points="755,676 755,717 713,696.5" fill="#fff"/>
<polyline points="744,686.2 751,686.2"/>
<polyline points="747.5,682.8 747.5,689.8"/>
<polyline points="744,706.8 751,706.8"/>
<polyline points="745,675 745,679" stroke-width="1"/>
<polyline points="745,714 745,718" stroke-width="1"/>
<polyline points="755,686 820,686 820,706"/>
<polyline points="808,706 830,706"/>
<polyline points="811.5,709.7 826.5,709.7" stroke-width="1.3"/>
<polyline points="814.7,713.4 823.3,713.4" stroke-width="1.3"/>
<polyline points="817.7,716.8 820.3,716.8" stroke-width="1.3"/>
<polyline points="755,707 798,707"/>
<circle cx="798" cy="707" r="2.1" fill="#000" stroke="none"/>
<polyline points="713,696.5 681,696.5 681,749 712,749 712,738"/>
<polygon points="712,732.5 708,739.5 716,739.5" fill="#000" stroke-width="0.8"/>
<circle cx="681" cy="728" r="2.1" fill="#000" stroke="none"/>
<rect x="697" y="725" width="31" height="6.6" fill="#fff" rx="1.2"/>
<rect x="754" y="725" width="32" height="6.6" fill="#fff" rx="1.2"/>
<polyline points="945,431 944.5,588 911,588"/>
<circle cx="945" cy="428" r="3" fill="#fff" stroke-width="1.1"/>
<circle cx="945" cy="435" r="2.1" fill="#000" stroke="none"/>
<polyline points="945,435 912,435 911,597"/>
<polyline points="900,597 922,597"/>
<polyline points="903.5,600.7 918.5,600.7" stroke-width="1.3"/>
<polyline points="906.7,604.4 915.3,604.4" stroke-width="1.3"/>
<polyline points="909.7,607.8 912.3,607.8" stroke-width="1.3"/>
<circle cx="911" cy="588" r="2.1" fill="#000" stroke="none"/>
<rect x="908.7" y="445" width="6.6" height="32" fill="#fff" rx="1.2"/>
<rect x="908.4" y="493" width="6.6" height="31" fill="#fff" rx="1.2"/>
<rect x="908.2" y="541" width="6.6" height="31" fill="#fff" rx="1.2"/>
<rect x="941.4" y="445" width="6.6" height="32" fill="#fff" rx="1.2"/>
<rect x="940.7" y="541" width="6.6" height="31" fill="#fff" rx="1.2"/>
<polyline points="909,509 875,509 873.5,788"/>
<polygon points="908.5,509 902,505.2 902,512.8" fill="#000" stroke-width="0.8"/>
<polygon points="935.5,503 953.5,503 944.5,513" fill="#000" stroke-width="0.8"/>
<polyline points="934.5,513.8 954.5,513.8" stroke-width="1.8"/>
<circle cx="944.5" cy="529" r="2.1" fill="#000" stroke="none"/>
<polyline points="944.5,529 975.5,529 976,487"/>
<polyline points="1109.5,282 976.5,282 976,487"/>
<rect x="972.7" y="445" width="6.6" height="32" fill="#fff" rx="1.2"/>
<circle cx="976" cy="434.5" r="2.1" fill="#000" stroke="none"/>
<circle cx="976" cy="487.5" r="2.1" fill="#000" stroke="none"/>
<polyline points="976,434.5 1002,434.5"/>
<polyline points="976,487.5 1002,487.5"/>
<rect x="1002" y="434.5" width="21" height="10.5" fill="#fff"/>
<rect x="1002" y="477" width="21" height="10.5" fill="#fff"/>
<polyline points="1109.5,266 817,267.5 817,473"/>
<circle cx="817" cy="314" r="2.1" fill="#000" stroke="none"/>
<circle cx="817" cy="346" r="2.1" fill="#000" stroke="none"/>
<polyline points="817,314 1109.5,313.3"/>
<polyline points="817,346 1109.5,345"/>
<polyline points="1109.5,392.5 865,393.5 862.5,798.5"/>
<polyline points="1109.5,297.5 1041,297.5 1041,519 1081,519 1081,614"/>
<circle cx="1095" cy="250" r="2.1" fill="#000" stroke="none"/>
<polyline points="1095,250 1095,329 1109.5,329"/>
<polyline points="988,508 986,509 1006.5,509 1006.5,614 1090,614"/>
<polyline points="986,509 986,624.5 894.5,624.5 895,730 910,730"/>
<rect x="1003.2" y="524" width="6.6" height="32" fill="#fff" rx="1.2"/>
<rect x="1003.2" y="572" width="6.6" height="31" fill="#fff" rx="1.2"/>
<polyline points="1011,540.5 1086,540.5"/>
<polygon points="1010.5,540.5 1017,536.7 1017,544.3" fill="#000" stroke-width="0.8"/>
<circle cx="1038" cy="540.5" r="2.1" fill="#000" stroke="none"/>
<circle cx="1081" cy="540.5" r="2.1" fill="#000" stroke="none"/>
<rect x="1043" y="537.2" width="33" height="6.6" fill="#fff" rx="1.2"/>
<polyline points="1038,540.5 1038,614"/>
<circle cx="1038" cy="614" r="2.1" fill="#000" stroke="none"/>
<circle cx="1081" cy="614" r="2.1" fill="#000" stroke="none"/>
<rect x="1036" y="581" width="4" height="4.5" fill="#fff" stroke-width="0"/>
<rect x="1036" y="581" width="4" height="4.5" fill="#fff" stroke="none"/>
<polyline points="1028,581 1048,581" stroke-width="1.6"/>
<polyline points="1028,585.5 1048,585.5" stroke-width="1.6"/>
<rect x="1079" y="581" width="4" height="4.5" fill="#fff" stroke-width="0"/>
<rect x="1079" y="581" width="4" height="4.5" fill="#fff" stroke="none"/>
<polyline points="1071,581 1091,581" stroke-width="1.6"/>
<polyline points="1071,585.5 1091,585.5" stroke-width="1.6"/>
<polyline points="1091,603 1091,625"/>
<polyline points="1094.7,606.5 1094.7,621.5" stroke-width="1.3"/>
<polyline points="1098.4,609.7 1098.4,618.3" stroke-width="1.3"/>
<polyline points="1101.8,612.7 1101.8,615.3" stroke-width="1.3"/>
<circle cx="1115" cy="250" r="5.4" fill="#fff"/>
<circle cx="1115" cy="265.8" r="5.4" fill="#fff"/>
<circle cx="1115" cy="281.6" r="5.4" fill="#fff"/>
<circle cx="1115" cy="297.4" r="5.4" fill="#fff"/>
<circle cx="1115" cy="313.2" r="5.4" fill="#fff"/>
<circle cx="1115" cy="329" r="5.4" fill="#fff"/>
<circle cx="1115" cy="344.8" r="5.4" fill="#fff"/>
<circle cx="1115" cy="360.6" r="5.4" fill="#fff"/>
<circle cx="1115" cy="376.4" r="5.4" fill="#fff"/>
<circle cx="1115" cy="392.2" r="5.4" fill="#fff"/>
<circle cx="1115" cy="408" r="5.4" fill="#fff"/>
<polyline points="1114.5,413.5 1114,514"/>
<polyline points="1114,546 1113.5,555"/>
<polyline points="1102.5,555 1124.5,555"/>
<polyline points="1106,558.7 1121,558.7" stroke-width="1.3"/>
<polyline points="1109.2,562.4 1117.8,562.4" stroke-width="1.3"/>
<polyline points="1112.2,565.8 1114.8,565.8" stroke-width="1.3"/>
<rect x="1110.4" y="514" width="6.6" height="32" fill="#fff" rx="1.2"/>
<polyline points="1141,430 1141,498"/>
<circle cx="1114.3" cy="455" r="2.1" fill="#000" stroke="none"/>
<polyline points="1114.3,455 1147,455 1147,482 1157,482"/>
<circle cx="1141" cy="482" r="2.1" fill="#000" stroke="none"/>
<polyline points="1097,482 1141,482"/>
<polyline points="1092,455 1092,440 1066,440 1066,492 1092,492 1092,487"/>
<rect x="1062.4" y="450" width="6.6" height="32" fill="#fff" rx="1.2"/>
<polyline points="1167,455 1178.5,455 1178.5,508"/>
<rect x="1175.2" y="467" width="6.6" height="31" fill="#fff" rx="1.2"/>
<polyline points="1167.5,508 1189.5,508"/>
<polyline points="1171,511.7 1186,511.7" stroke-width="1.3"/>
<polyline points="1174.2,515.4 1182.8,515.4" stroke-width="1.3"/>
<polyline points="1177.2,518.8 1179.8,518.8" stroke-width="1.3"/>
<circle cx="1114.6" cy="439" r="5.4" fill="#fff"/>
<circle cx="1114.2" cy="498" r="5.4" fill="#fff"/>
<circle cx="1141" cy="439" r="5.4" fill="#fff"/>
<circle cx="1141" cy="498" r="5.4" fill="#fff"/>
<circle cx="1141" cy="427" r="3" fill="#fff" stroke-width="1.1"/>
<circle cx="1092" cy="455" r="5.4" fill="#fff"/>
<circle cx="1092" cy="482" r="5.4" fill="#fff"/>
<circle cx="1162" cy="455" r="5.4" fill="#fff"/>
<circle cx="1162" cy="482" r="5.4" fill="#fff"/>
<polyline points="1158.5,329 1211,329 1210,561 1279,561 1279,550.5"/>
<rect x="1169" y="325.7" width="33" height="6.6" fill="#fff" rx="1.2"/>
<circle cx="1153" cy="329" r="5.4" fill="#fff"/>
<polyline points="1291,361.1 1313,361.1"/>
<polyline points="1291,382.1 1313,382.1"/>
<polyline points="1291,403.1 1313,403.1"/>
<polyline points="1288,676.8 1313,676.8"/>
<polyline points="1417,697.9 1439,697.9"/>
<polyline points="1417,676.8 1439,676.8"/>
<polyline points="1417,655.8 1439,655.8"/>
<polyline points="1417,634.7 1439,634.7"/>
<polyline points="1417,613.7 1439,613.7"/>
<polyline points="1417,592.6 1439,592.6"/>
<polyline points="1417,571.5 1439,571.5"/>
<polyline points="1417,550.5 1439,550.5"/>
<polyline points="1417,529.5 1439,529.5"/>
<polyline points="1417,508.4 1439,508.4"/>
<polyline points="1417,487.4 1439,487.4"/>
<polyline points="1417,466.3 1439,466.3"/>
<polyline points="1417,445.2 1439,445.2"/>
<polyline points="1417,424.2 1439,424.2"/>
<polyline points="1417,403.1 1439,403.1"/>
<polyline points="1417,382.1 1439,382.1"/>
<polyline points="1417,361.1 1439,361.1"/>
<polyline points="1239,445 1313,445"/>
<circle cx="1236" cy="445" r="3" fill="#fff" stroke-width="1.1"/>
<polyline points="1313,466 1232,466 1232,508.5 1313,508.5"/>
<circle cx="1232" cy="487.5" r="2.1" fill="#000" stroke="none"/>
<polyline points="1232,487.5 1313,487.5"/>
<rect x="1247" y="484.2" width="33" height="6.6" fill="#fff" rx="1.2"/>
<rect x="1261" y="464" width="4.5" height="4" fill="#fff" stroke="none"/>
<polyline points="1261,456 1261,476" stroke-width="1.6"/>
<polyline points="1265.5,456 1265.5,476" stroke-width="1.6"/>
<rect x="1261" y="506.5" width="4.5" height="4" fill="#fff" stroke="none"/>
<polyline points="1261,498.5 1261,518.5" stroke-width="1.6"/>
<polyline points="1265.5,498.5 1265.5,518.5" stroke-width="1.6"/>
<polyline points="1313,529.5 1221,529.5 1220,766"/>
<circle cx="1242.5" cy="529.5" r="2.1" fill="#000" stroke="none"/>
<polyline points="1242.5,529.5 1242.5,550.5 1313,550.5"/>
<circle cx="1279" cy="550.5" r="2.1" fill="#000" stroke="none"/>
<rect x="1261" y="549" width="4.5" height="4" fill="#fff" stroke="none"/>
<polyline points="1261,541 1261,561" stroke-width="1.6"/>
<polyline points="1265.5,541 1265.5,561" stroke-width="1.6"/>
<polyline points="1313,571.5 1231,571.5 1231,582"/>
<polyline points="1220.5,582 1242.5,582"/>
<polyline points="1224,585.7 1239,585.7" stroke-width="1.3"/>
<polyline points="1227.2,589.4 1235.8,589.4" stroke-width="1.3"/>
<polyline points="1230.2,592.8 1232.8,592.8" stroke-width="1.3"/>
<polyline points="1313,592.5 1241,592.5 1241,613.5 1313,613.5"/>
<rect x="1261" y="611.5" width="4.5" height="4" fill="#fff" stroke="none"/>
<polyline points="1261,603.5 1261,623.5" stroke-width="1.6"/>
<polyline points="1265.5,603.5 1265.5,623.5" stroke-width="1.6"/>
<polyline points="841,783 841,635 1313,634.5"/>
<rect x="1246" y="631.2" width="32" height="6.6" fill="#fff" rx="1.2"/>
<polyline points="851.5,630.5 1188,630.5 1187,769"/>
<circle cx="851.5" cy="630.5" r="2.1" fill="#000" stroke="none"/>
<circle cx="1187.5" cy="656" r="2.1" fill="#000" stroke="none"/>
<polyline points="1187.5,656 1313,655.7"/>
<circle cx="1187" cy="740.5" r="2.1" fill="#000" stroke="none"/>
<polyline points="1313,698.5 1230,698.5 1230,740.5 1313,740.5"/>
<rect x="1259" y="696.5" width="4.5" height="4" fill="#fff" stroke="none"/>
<polyline points="1259,688.5 1259,708.5" stroke-width="1.6"/>
<polyline points="1263.5,688.5 1263.5,708.5" stroke-width="1.6"/>
<circle cx="1230" cy="719.5" r="2.1" fill="#000" stroke="none"/>
<polyline points="1230,719.5 1313,719.5"/>
<rect x="1246" y="716.2" width="32" height="6.6" fill="#fff" rx="1.2"/>
<polyline points="1417,740.5 1457,741"/>
<circle cx="1460" cy="741" r="3" fill="#fff" stroke-width="1.1"/>
<circle cx="1446" cy="741" r="2.1" fill="#000" stroke="none"/>
<polyline points="1446,741 1446,783 1382.5,783"/>
<circle cx="1446" cy="762" r="2.1" fill="#000" stroke="none"/>
<polyline points="1446,762 1415,762 1415,773"/>
<polygon points="1415,779 1411,772 1419,772" fill="#000" stroke-width="0.8"/>
<rect x="1398" y="779.7" width="33" height="6.6" fill="#fff" rx="1.2"/>
<circle cx="1377" cy="783" r="5.4" fill="#fff"/>
<circle cx="1356" cy="783" r="5.4" fill="#fff"/>
<polyline points="1350.5,783 1277.5,783 1277.5,750 1219.5,750"/>
<rect x="1308" y="779.7" width="33" height="6.6" fill="#fff" rx="1.2"/>
<circle cx="1219.5" cy="750" r="2.1" fill="#000" stroke="none"/>
<polyline points="1219.5,750 1218.5,813"/>
<rect x="1215.2" y="766" width="6.6" height="32" fill="#fff" rx="1.2"/>
<polyline points="1207.5,813 1229.5,813"/>
<polyline points="1211,816.7 1226,816.7" stroke-width="1.3"/>
<polyline points="1214.2,820.4 1222.8,820.4" stroke-width="1.3"/>
<polyline points="1217.2,823.8 1219.8,823.8" stroke-width="1.3"/>
<rect x="1313" y="330" width="104.5" height="420" fill="#fff" stroke-width="2.2"/>
<path d="M1354,749.5 A8,8 0 0 1 1370,749.5" fill="none" stroke-width="1.5"/>
<rect x="1185" y="769.5" width="4" height="4.5" fill="#fff" stroke-width="0"/>
<rect x="1185" y="769.5" width="4" height="4.5" fill="#fff" stroke="none"/>
<polyline points="1177,769.5 1197,769.5" stroke-width="1.6"/>
<polyline points="1177,774 1197,774" stroke-width="1.6"/>
<polyline points="1187,774 1187,792"/>
<polyline points="1176,792 1198,792"/>
<polyline points="1179.5,795.7 1194.5,795.7" stroke-width="1.3"/>
<polyline points="1182.7,799.4 1191.3,799.4" stroke-width="1.3"/>
<polyline points="1185.7,802.8 1188.3,802.8" stroke-width="1.3"/>
<polyline points="883,803 883,688 974,688"/>
<rect x="910" y="684.7" width="32" height="6.6" fill="#fff" rx="1.2"/>
<circle cx="958" cy="688" r="2.1" fill="#000" stroke="none"/>
<polyline points="958,688 958,661.5"/>
<circle cx="958" cy="661.5" r="2.1" fill="#000" stroke="none"/>
<polyline points="947,661.5 1080,661.5 1080,782 957,782 957,751"/>
<polyline points="947,650.5 947,672.5"/>
<polyline points="943.3,654 943.3,669" stroke-width="1.3"/>
<polyline points="939.6,657.2 939.6,665.8" stroke-width="1.3"/>
<polyline points="936.2,660.2 936.2,662.8" stroke-width="1.3"/>
<rect x="1009" y="659.5" width="4.5" height="4" fill="#fff" stroke="none"/>
<polyline points="1009,651.5 1009,671.5" stroke-width="1.6"/>
<polyline points="1013.5,651.5 1013.5,671.5" stroke-width="1.6"/>
<circle cx="883" cy="709" r="2.1" fill="#000" stroke="none"/>
<polyline points="883,709 974,709"/>
<polyline points="910,730 974,730"/>
<rect x="910" y="726.7" width="32" height="6.6" fill="#fff" rx="1.2"/>
<circle cx="883" cy="751" r="2.1" fill="#000" stroke="none"/>
<polyline points="883,751 974,751"/>
<rect x="910" y="747.7" width="32" height="6.6" fill="#fff" rx="1.2"/>
<circle cx="957.5" cy="751" r="2.1" fill="#000" stroke="none"/>
<polyline points="1037,688 1087,688"/>
<circle cx="1090" cy="688" r="3" fill="#fff" stroke-width="1.1"/>
<circle cx="1053" cy="688" r="2.1" fill="#000" stroke="none"/>
<polyline points="1053,688 1053,782"/>
<circle cx="1053" cy="782" r="2.1" fill="#000" stroke="none"/>
<polyline points="1037,709 1080,709"/>
<polyline points="1037,730 1080,730"/>
<circle cx="1080" cy="709" r="2.1" fill="#000" stroke="none"/>
<circle cx="1080" cy="730" r="2.1" fill="#000" stroke="none"/>
<polyline points="1037,751 1058,751"/>
<rect x="1076.7" y="740" width="6.6" height="32" fill="#fff" rx="1.2"/>
<rect x="974" y="678" width="63" height="83" fill="#fff" stroke-width="2.2"/>
<path d="M999,678.5 A7,7 0 0 0 1013,678.5" fill="none" stroke-width="1.5"/>
<polyline points="1123.5,663 1123,813"/>
<circle cx="1123.5" cy="660" r="3" fill="#fff" stroke-width="1.1"/>
<polyline points="1112,813 1134,813"/>
<polyline points="1115.5,816.7 1130.5,816.7" stroke-width="1.3"/>
<polyline points="1118.7,820.4 1127.3,820.4" stroke-width="1.3"/>
<polyline points="1121.7,823.8 1124.3,823.8" stroke-width="1.3"/>
<rect x="1120.2" y="677" width="6.6" height="31" fill="#fff" rx="1.2"/>
<rect x="1120" y="725" width="6.6" height="31" fill="#fff" rx="1.2"/>
<rect x="1119.7" y="772" width="6.6" height="31" fill="#fff" rx="1.2"/>
<polyline points="1128,740.5 1187,740.5"/>
<polygon points="1127.5,740.5 1134,736.7 1134,744.3" fill="#000" stroke-width="0.8"/>
<rect x="1144" y="737.2" width="33" height="6.6" fill="#fff" rx="1.2"/>
<polyline points="287,727 250,727.5 250,828 278,828"/>
<polyline points="260,738 244,738 244,858 452.5,858 452.5,793 852,793 851.5,630.5"/>
<polyline points="298,748 323,748"/>
<circle cx="314" cy="748" r="2.1" fill="#000" stroke="none"/>
<polyline points="314,748 314,800 372.5,799.5"/>
<circle cx="314" cy="774" r="2.1" fill="#000" stroke="none"/>
<circle cx="250" cy="774" r="2.1" fill="#000" stroke="none"/>
<polyline points="250,774 372.5,774 372.5,694 384,694"/>
<rect x="266" y="770.7" width="32" height="6.6" fill="#fff" rx="1.2"/>
<rect x="330" y="770.7" width="32" height="6.6" fill="#fff" rx="1.2"/>
<rect x="330" y="796.7" width="32" height="6.6" fill="#fff" rx="1.2"/>
<circle cx="372.5" cy="799.5" r="2.1" fill="#000" stroke="none"/>
<polyline points="372.5,799.5 862.5,798.5"/>
<polyline points="372.5,799.5 372.5,826 289,827.5"/>
<rect x="330" y="823.2" width="32" height="6.6" fill="#fff" rx="1.2"/>
<circle cx="314" cy="827.3" r="2.1" fill="#000" stroke="none"/>
<polyline points="314,827.3 314,838"/>
<polyline points="303,838 325,838"/>
<polyline points="306.5,841.7 321.5,841.7" stroke-width="1.3"/>
<polyline points="309.7,845.4 318.3,845.4" stroke-width="1.3"/>
<polyline points="312.7,848.8 315.3,848.8" stroke-width="1.3"/>
<polygon points="278,817.5 278,837.5 288,827.5" fill="#000" stroke-width="0.8"/>
<polyline points="288.5,817.5 288.5,837.5" stroke-width="1.8"/>
<circle cx="292.5" cy="727" r="5.4" fill="#fff"/>
<circle cx="265.5" cy="738" r="5.4" fill="#fff"/>
<circle cx="292.5" cy="748" r="5.4" fill="#fff"/>
<circle cx="326.5" cy="748" r="3" fill="#fff" stroke-width="1.1"/>
<circle cx="463.5" cy="782" r="2.1" fill="#000" stroke="none"/>
<polyline points="463.5,782 841,783"/>
<polyline points="453,788 873.5,788"/>
<polyline points="474,940 474,803.5 883,803"/>
<polyline points="132.5,857 132.5,942 201,942"/>
<rect x="129.2" y="857" width="6.6" height="32" fill="#fff" rx="1.2"/>
<circle cx="132.5" cy="910" r="2.1" fill="#000" stroke="none"/>
<polyline points="132.5,910 170,910"/>
<circle cx="153" cy="910" r="2.1" fill="#000" stroke="none"/>
<circle cx="170" cy="910" r="2.1" fill="#000" stroke="none"/>
<polyline points="153,910 153,953"/>
<circle cx="153" cy="942" r="2.1" fill="#000" stroke="none"/>
<polyline points="142,953 164,953"/>
<polyline points="145.5,956.7 160.5,956.7" stroke-width="1.3"/>
<polyline points="148.7,960.4 157.3,960.4" stroke-width="1.3"/>
<polyline points="151.7,963.8 154.3,963.8" stroke-width="1.3"/>
<polygon points="123.5,920 141.5,920 132.5,930" fill="#000" stroke-width="0.8"/>
<polyline points="122.5,930.8 142.5,930.8" stroke-width="1.8"/>
<polyline points="143,921 163,921" stroke-width="1.8"/>
<polygon points="153,921.5 144,932 162,932" fill="#000" stroke-width="0.8"/>
<polyline points="201,921 170,921 170,900 254,900 254,932"/>
<rect x="195" y="896.7" width="33" height="6.6" fill="#fff" rx="1.2"/>
<polygon points="201,911 201,953 243,932" fill="#fff"/>
<polyline points="205,921.5 212,921.5"/>
<polyline points="208.5,918 208.5,925"/>
<polyline points="205,942.5 212,942.5"/>
<polyline points="211,910 211,914" stroke-width="1"/>
<polyline points="211,950 211,954" stroke-width="1"/>
<polyline points="243,932 340,931.5"/>
<circle cx="254" cy="932" r="2.1" fill="#000" stroke="none"/>
<rect x="276" y="928.7" width="32" height="6.6" fill="#fff" rx="1.2"/>
<polygon points="340,921 340,962 381,941.5" fill="#fff"/>
<polyline points="344,931.2 351,931.2"/>
<polyline points="347.5,927.8 347.5,934.8"/>
<polyline points="344,951.8 351,951.8"/>
<polyline points="350,920 350,924" stroke-width="1"/>
<polyline points="350,959 350,963" stroke-width="1"/>
<polyline points="340,952 308,952 308,963"/>
<polyline points="297,963 319,963"/>
<polyline points="300.5,966.7 315.5,966.7" stroke-width="1.3"/>
<polyline points="303.7,970.4 312.3,970.4" stroke-width="1.3"/>
<polyline points="306.7,973.8 309.3,973.8" stroke-width="1.3"/>
<polyline points="381,941 474,940"/>
<rect x="418" y="938.5" width="4" height="4" fill="#fff" stroke="none"/>
<polyline points="418,930.5 418,950.5" stroke-width="1.6"/>
<polyline points="422,930.5 422,950.5" stroke-width="1.6"/>
</g>
<g font-family="Liberation Serif" fill="#000" stroke="none">
<text x="27" y="220.6" font-size="17" stroke="#000" stroke-width="0.95" font-family="Liberation Sans">mA</text>
<text x="12" y="347.6" font-size="17" stroke="#000" stroke-width="0.95" font-family="Liberation Sans">COM</text>
<text x="12" y="463.6" font-size="17" stroke="#000" stroke-width="0.95" font-family="Liberation Sans">V/R/f</text>
<text x="38" y="636.6" font-size="17" stroke="#000" stroke-width="0.95" font-family="Liberation Sans">A</text>
<text x="169.5" y="144.6" font-size="8" text-anchor="middle" font-weight="bold">V+</text>
<text x="62" y="249.8" font-size="8.5" font-weight="bold">0.2A/250V</text>
<text x="144" y="249.9" font-size="8.7" font-weight="bold">PTC</text>
<text x="144" y="260.9" font-size="8.7" font-weight="bold">R18</text>
<text x="148" y="213.9" font-size="8.7" font-weight="bold">R19</text>
<text x="148" y="223.9" font-size="8.7" font-weight="bold">100J</text>
<text x="65" y="291.9" font-size="8.7" font-weight="bold">D1</text>
<text x="117" y="307.9" font-size="8.7" font-weight="bold">D2</text>
<text x="152" y="291.9" font-size="8.7" font-weight="bold">D3</text>
<text x="152" y="323.9" font-size="8.7" font-weight="bold">D4</text>
<text x="62" y="315.8" font-size="8.5" font-weight="bold">4 X IN4004</text>
<text x="145" y="361.9" font-size="8.7" font-weight="bold">R17</text>
<text x="145" y="371.9" font-size="8.7" font-weight="bold">100kJ</text>
<text x="145" y="403.9" font-size="8.7" font-weight="bold">R16</text>
<text x="145" y="413.9" font-size="8.7" font-weight="bold">1MJ</text>
<text x="160" y="493.9" font-size="8.7" font-weight="bold">R20</text>
<text x="160" y="504.9" font-size="8.7" font-weight="bold">PTC</text>
<text x="190" y="503.9" font-size="8.7" font-weight="bold">Q1</text>
<text x="190" y="514.9" font-size="8.7" font-weight="bold">9013</text>
<text x="189" y="514.9" font-size="8.7" font-weight="bold"></text>
<text x="229" y="535.9" font-size="8.7" font-weight="bold">C7</text>
<text x="229" y="546.9" font-size="8.7" font-weight="bold">104</text>
<text x="172" y="729.9" font-size="8.7" font-weight="bold">R1</text>
<text x="172" y="740.9" font-size="8.7" font-weight="bold">0.01</text>
<text x="222" y="245.9" font-size="8.7" font-weight="bold">R10</text>
<text x="222" y="256.9" font-size="8.7" font-weight="bold">9MF</text>
<text x="222" y="298.9" font-size="8.7" font-weight="bold">R9</text>
<text x="222" y="309.4" font-size="8.7" font-weight="bold"></text>
<text x="215" y="309.4" font-size="8.7" font-weight="bold">900KD</text>
<text x="222" y="351.9" font-size="8.7" font-weight="bold">R8</text>
<text x="222" y="362.4" font-size="8.7" font-weight="bold"></text>
<text x="219" y="362.9" font-size="8.7" font-weight="bold">90KD</text>
<text x="222" y="403.9" font-size="8.7" font-weight="bold">R7</text>
<text x="222" y="414.9" font-size="8.7" font-weight="bold">9KD</text>
<text x="222" y="455.9" font-size="8.7" font-weight="bold">R6</text>
<text x="222" y="467.4" font-size="8.7" font-weight="bold">1KD</text>
<text x="222" y="508.9" font-size="8.7" font-weight="bold">R5</text>
<text x="222" y="519.4" font-size="8.7" font-weight="bold"></text>
<text x="220" y="519.9" font-size="8.7" font-weight="bold">100D</text>
<text x="222" y="572.9" font-size="8.7" font-weight="bold">R4</text>
<text x="222" y="583.9" font-size="8.7" font-weight="bold">90D</text>
<text x="222" y="624.9" font-size="8.7" font-weight="bold">R3</text>
<text x="222" y="635.9" font-size="8.7" font-weight="bold">9D</text>
<text x="220" y="677.9" font-size="8.7" font-weight="bold">R2</text>
<text x="220" y="688.9" font-size="8.7" font-weight="bold">0.99F</text>
<text x="326" y="500.1" font-size="9.5" font-weight="bold">R15  900KF</text>
<text x="326" y="519.1" font-size="9.5" font-weight="bold">R14  90KF</text>
<text x="326" y="563.1" font-size="9.5" font-weight="bold">R13  9KF</text>
<text x="326" y="583.1" font-size="9.5" font-weight="bold">R12  900F</text>
<text x="403" y="223.3" font-size="9" font-weight="bold">200mV</text>
<text x="402.9" y="239.1" font-size="9" font-weight="bold">2V</text>
<text x="402.9" y="254.8" font-size="9" font-weight="bold">20V</text>
<text x="402.8" y="270.6" font-size="9" font-weight="bold">200V</text>
<text x="402.7" y="286.4" font-size="9" font-weight="bold">1KV</text>
<text x="402.7" y="302.2" font-size="9" font-weight="bold">700V~</text>
<text x="402.6" y="318" font-size="9" font-weight="bold">200V~</text>
<text x="402.5" y="333.7" font-size="9" font-weight="bold">20V~</text>
<text x="402.5" y="349.5" font-size="9" font-weight="bold">2V~</text>
<text x="402.4" y="365.3" font-size="9" font-weight="bold">°C</text>
<text x="402.4" y="381.1" font-size="9" font-weight="bold">20KHz</text>
<text x="402.3" y="396.9" font-size="9" font-weight="bold">20mA ~</text>
<text x="402.2" y="412.6" font-size="9" font-weight="bold">200mA ~</text>
<text x="402.2" y="428.4" font-size="9" font-weight="bold">10A ~</text>
<text x="402.1" y="444.2" font-size="9" font-weight="bold">10A</text>
<text x="402" y="460" font-size="9" font-weight="bold">200mA</text>
<text x="402" y="475.8" font-size="9" font-weight="bold">20mA</text>
<text x="401.9" y="487.5" font-size="9" font-weight="bold">2mA</text>
<text x="401.8" y="503.3" font-size="9" font-weight="bold">2nF</text>
<text x="401.8" y="523.1" font-size="9" font-weight="bold">20nF</text>
<text x="401.7" y="538.9" font-size="9" font-weight="bold">200nF</text>
<text x="401.6" y="554.7" font-size="9" font-weight="bold">2uF</text>
<text x="401.6" y="566.4" font-size="9" font-weight="bold">20uF</text>
<text x="401.5" y="586.2" font-size="9" font-weight="bold">BZ &amp; DIODE</text>
<text x="401.4" y="602" font-size="9" font-weight="bold">200</text>
<text x="401.4" y="617.8" font-size="9" font-weight="bold">2K</text>
<text x="401.3" y="633.5" font-size="9" font-weight="bold">20K</text>
<text x="401.2" y="649.3" font-size="9" font-weight="bold">200K</text>
<text x="401.2" y="665.1" font-size="9" font-weight="bold">2M</text>
<text x="401.1" y="680.9" font-size="9" font-weight="bold">20M</text>
<text x="401.1" y="696.7" font-size="9" font-weight="bold">200M</text>
<text x="401" y="712.5" font-size="9" font-weight="bold">hFE</text>
<text x="474" y="422.9" font-size="8.7" font-weight="bold">ACA</text>
<text x="474" y="464.9" font-size="8.7" font-weight="bold">DCA</text>
<text x="508" y="486.9" font-size="8.7" font-weight="bold">C</text>
<text x="532" y="274.9" font-size="8.7" font-weight="bold">R32</text>
<text x="532" y="285.9" font-size="8.7" font-weight="bold"></text>
<text x="530" y="285.9" font-size="8.7" font-weight="bold">100KJ</text>
<text x="567" y="291" font-size="9" font-weight="bold">3</text>
<text x="567" y="312" font-size="9" font-weight="bold">2</text>
<text x="491" y="670.1" font-size="9.5" font-weight="bold">R11  98F</text>
<text x="515" y="102.3" font-size="22" text-anchor="middle" stroke="#000" stroke-width="0.2" font-family="Liberation Sans">+</text>
<text x="497" y="125.3" font-size="22" stroke="#000" stroke-width="0.2" font-family="Liberation Sans">9V</text>
<text x="509" y="149.6" font-size="20" text-anchor="middle" stroke="#000" stroke-width="0.2" font-family="Liberation Sans">–</text>
<text x="654" y="104" font-size="9" text-anchor="middle" font-weight="bold">+</text>
<text x="677" y="65.8" font-size="8.5" font-weight="bold">V+</text>
<text x="677" y="159.8" font-size="8.5" font-weight="bold">V-</text>
<text x="675" y="107.9" font-size="8.7" font-weight="bold">C21</text>
<text x="675" y="118.9" font-size="8.7" font-weight="bold">22uF</text>
<text x="765" y="40.8" font-size="8.5" text-anchor="middle" font-weight="bold">V+</text>
<text x="769" y="77.9" font-size="8.7" font-weight="bold">R22</text>
<text x="769" y="90.9" font-size="8.7" font-weight="bold">2MJ</text>
<text x="738" y="165.9" font-size="8.7" font-weight="bold">R23</text>
<text x="738" y="176.9" font-size="8.7" font-weight="bold">47KJ</text>
<text x="802" y="165.9" font-size="8.7" font-weight="bold">R21</text>
<text x="802" y="176.9" font-size="8.7" font-weight="bold">220KJ</text>
<text x="810" y="119" font-size="9" text-anchor="middle" font-weight="bold">5</text>
<text x="809" y="139" font-size="9" text-anchor="middle" font-weight="bold">6</text>
<text x="889" y="128" font-size="9" text-anchor="middle" font-weight="bold">7</text>
<text x="832" y="86.6" font-size="11" stroke="#000" stroke-width="0.2">IC2B</text>
<text x="829" y="99.6" font-size="11" stroke="#000" stroke-width="0.2">TL062</text>
<text x="923" y="196.3" font-size="8.5" text-anchor="end" font-weight="bold">V-</text>
<text x="1125" y="69.8" font-size="8.5" font-weight="bold">V+</text>
<text x="1128" y="107" font-size="9" font-weight="bold">BZ</text>
<text x="980" y="65" font-size="9" text-anchor="middle" font-weight="bold">1</text>
<text x="1063" y="65" font-size="9" text-anchor="middle" font-weight="bold">14</text>
<text x="980" y="86.1" font-size="9" text-anchor="middle" font-weight="bold">2</text>
<text x="1063" y="86.1" font-size="9" text-anchor="middle" font-weight="bold">13</text>
<text x="980" y="107.2" font-size="9" text-anchor="middle" font-weight="bold">3</text>
<text x="1063" y="107.2" font-size="9" text-anchor="middle" font-weight="bold">12</text>
<text x="980" y="128.3" font-size="9" text-anchor="middle" font-weight="bold">4</text>
<text x="1063" y="128.3" font-size="9" text-anchor="middle" font-weight="bold">11</text>
<text x="980" y="149.4" font-size="9" text-anchor="middle" font-weight="bold">5</text>
<text x="1063" y="149.4" font-size="9" text-anchor="middle" font-weight="bold">10</text>
<text x="980" y="170.5" font-size="9" text-anchor="middle" font-weight="bold">6</text>
<text x="1063" y="170.5" font-size="9" text-anchor="middle" font-weight="bold">9</text>
<text x="980" y="191.6" font-size="9" text-anchor="middle" font-weight="bold">7</text>
<text x="1063" y="191.6" font-size="9" text-anchor="middle" font-weight="bold">8</text>
<text x="1021" y="127.6" font-size="11" text-anchor="middle" stroke="#000" stroke-width="0.2">IC3</text>
<text x="1021" y="140.6" font-size="11" text-anchor="middle" stroke="#000" stroke-width="0.2">4011</text>
<text x="1011" y="19.9" font-size="8.7" font-weight="bold">R24</text>
<text x="1011" y="29.9" font-size="8.7" font-weight="bold">470KJ</text>
<text x="927" y="101.9" font-size="8.7" font-weight="bold">R25</text>
<text x="927" y="112.9" font-size="8.7" font-weight="bold"></text>
<text x="926" y="112.9" font-size="8.7" font-weight="bold">100KJ</text>
<text x="920" y="153.9" font-size="8.7" font-weight="bold">C8</text>
<text x="920" y="165.9" font-size="8.7" font-weight="bold">220P</text>
<text x="1203" y="23.8" font-size="8.5" text-anchor="middle" font-weight="bold">V+</text>
<text x="1203" y="191.8" font-size="8.5" text-anchor="middle" font-weight="bold">V-</text>
<text x="1171" y="65.9" font-size="8.7" font-weight="bold">R27</text>
<text x="1171" y="76.9" font-size="8.7" font-weight="bold">820KJ</text>
<text x="1171" y="139.9" font-size="8.7" font-weight="bold">R26</text>
<text x="1171" y="150.4" font-size="8.7" font-weight="bold">510KJ</text>
<text x="1266" y="88.9" font-size="8.7" font-weight="bold">Q2</text>
<text x="1266" y="98.9" font-size="8.7" font-weight="bold">9014</text>
<text x="1304" y="70.6" font-size="11" stroke="#000" stroke-width="0.2">IC1 37Pin</text>
<text x="1261" y="161.9" font-size="8.7" font-weight="bold">R29</text>
<text x="1261" y="171.9" font-size="8.7" font-weight="bold"></text>
<text x="1259" y="171.9" font-size="8.7" font-weight="bold">470KJ</text>
<text x="1255" y="229.6" font-size="11" text-anchor="middle" stroke="#000" stroke-width="0.2">IC1 21Pin</text>
<text x="1404" y="63.8" font-size="8.5" text-anchor="middle" font-weight="bold">V+</text>
<text x="1331" y="168.9" font-size="8.7" font-weight="bold">R38</text>
<text x="1331" y="180.9" font-size="8.7" font-weight="bold">1MJ</text>
<text x="1403" y="168.9" font-size="8.7" font-weight="bold">R39</text>
<text x="1403" y="180.9" font-size="8.7" font-weight="bold">1MJ</text>
<text x="1439" y="168.9" font-size="8.7" font-weight="bold">R40</text>
<text x="1439" y="180.9" font-size="8.7" font-weight="bold">1MJ</text>
<text x="1475" y="168.9" font-size="8.7" font-weight="bold">R41</text>
<text x="1475" y="180.9" font-size="8.7" font-weight="bold">1MJ</text>
<text x="1523" y="148.6" font-size="11" stroke="#000" stroke-width="0.2">IC1 21Pin</text>
<text x="1357" y="230.6" font-size="14" stroke="#000" stroke-width="0.2">HV</text>
<text x="1392" y="230.6" font-size="14" stroke="#000" stroke-width="0.2">P3</text>
<text x="1425" y="230.6" font-size="14" stroke="#000" stroke-width="0.2">P2</text>
<text x="1459" y="230.6" font-size="14" stroke="#000" stroke-width="0.2">P1</text>
<text x="1488" y="230.6" font-size="14" stroke="#000" stroke-width="0.2">BP</text>
<text x="1334" y="321.6" font-size="11" stroke="#000" stroke-width="0.2">IC1</text>
<text x="1361" y="321.6" font-size="11" stroke="#000" stroke-width="0.2">ICL7106</text>
<text x="601" y="258.8" font-size="8.5" text-anchor="middle" font-weight="bold">V+</text>
<text x="613" y="269.6" font-size="8" text-anchor="middle" font-weight="bold">+</text>
<text x="649" y="264.9" font-size="8.7" font-weight="bold">C19</text>
<text x="649" y="275.9" font-size="8.7" font-weight="bold">10uF</text>
<text x="591" y="279.6" font-size="8" text-anchor="middle" font-weight="bold">8</text>
<text x="600" y="327.3" font-size="7" text-anchor="middle" stroke="#000" stroke-width="0.2">1</text>
<text x="572" y="358.6" font-size="11" stroke="#000" stroke-width="0.2">IC2A</text>
<text x="569" y="371.6" font-size="11" stroke="#000" stroke-width="0.2">TL062</text>
<text x="650" y="300.6" font-size="8" font-weight="bold">1</text>
<text x="617" y="348.9" font-size="8.7" font-weight="bold">C10</text>
<text x="617" y="359.9" font-size="8.7" font-weight="bold">100P</text>
<text x="654" y="333.9" font-size="8.7" font-weight="bold">D5</text>
<text x="655" y="385.9" font-size="8.7" font-weight="bold">C11</text>
<text x="655" y="396.9" font-size="8.7" font-weight="bold">224</text>
<text x="713" y="327.9" font-size="8.7" font-weight="bold">R33</text>
<text x="713" y="338.9" font-size="8.7" font-weight="bold"></text>
<text x="711" y="338.9" font-size="8.7" font-weight="bold">100KJ</text>
<text x="713" y="380.9" font-size="8.7" font-weight="bold">R34</text>
<text x="713" y="391.9" font-size="8.7" font-weight="bold"></text>
<text x="711" y="391.9" font-size="8.7" font-weight="bold">100KJ</text>
<text x="736" y="313.6" font-size="8" text-anchor="middle" font-weight="bold">+</text>
<text x="716" y="274.9" font-size="8.7" font-weight="bold">C12</text>
<text x="716" y="285.9" font-size="8.7" font-weight="bold">4.7uF</text>
<text x="748" y="295.8" font-size="8.5" font-weight="bold">3 X IN4148</text>
<text x="748" y="342.9" font-size="8.7" font-weight="bold">D6</text>
<text x="779" y="343.9" font-size="8.7" font-weight="bold">D7</text>
<text x="734" y="418.6" font-size="8" text-anchor="middle" font-weight="bold">+</text>
<text x="758" y="391.9" font-size="8.7" font-weight="bold">R35</text>
<text x="758" y="402.9" font-size="8.7" font-weight="bold">3KF</text>
<text x="689" y="422.9" font-size="8.7" font-weight="bold">C13</text>
<text x="689" y="433.9" font-size="8.7" font-weight="bold">4.7uF</text>
<text x="751" y="433.9" font-size="8.7" font-weight="bold">R36</text>
<text x="751" y="444.9" font-size="8.7" font-weight="bold"></text>
<text x="749" y="444.9" font-size="8.7" font-weight="bold">1.87KF</text>
<text x="716" y="439.9" font-size="8.7" font-weight="bold">VR2</text>
<text x="716" y="449.9" font-size="8.7" font-weight="bold"></text>
<text x="717" y="450.4" font-size="8.7" font-weight="bold">201</text>
<text x="717" y="497.6" font-size="8" text-anchor="middle" font-weight="bold">+</text>
<text x="688" y="477.9" font-size="8.7" font-weight="bold">C14</text>
<text x="709" y="477.9" font-size="8.7" font-weight="bold">10uF</text>
<text x="746" y="502.9" font-size="8.7" font-weight="bold">R37</text>
<text x="746" y="513.9" font-size="8.7" font-weight="bold"></text>
<text x="745" y="513.9" font-size="8.7" font-weight="bold">6.8KJ</text>
<text x="510" y="544.8" font-size="8.5" font-weight="bold">1</text>
<text x="543" y="507.6" font-size="11" stroke="#000" stroke-width="0.2">IC4A</text>
<text x="541" y="519.6" font-size="11" stroke="#000" stroke-width="0.2">LM358</text>
<text x="590" y="534.8" font-size="8.5" text-anchor="middle" font-weight="bold">3</text>
<text x="590" y="555.8" font-size="8.5" text-anchor="middle" font-weight="bold">2</text>
<text x="541" y="583.9" font-size="8.7" font-weight="bold">R42</text>
<text x="541" y="594.9" font-size="8.7" font-weight="bold"></text>
<text x="540" y="594.9" font-size="8.7" font-weight="bold">168KF</text>
<text x="511" y="616.9" font-size="8.7" font-weight="bold">C15</text>
<text x="511" y="627.9" font-size="8.7" font-weight="bold"></text>
<text x="512" y="627.9" font-size="8.7" font-weight="bold">103</text>
<text x="575" y="616.9" font-size="8.7" font-weight="bold">C16</text>
<text x="575" y="627.9" font-size="8.7" font-weight="bold"></text>
<text x="577" y="627.9" font-size="8.7" font-weight="bold">103</text>
<text x="629" y="583.9" font-size="8.7" font-weight="bold">R43</text>
<text x="629" y="594.9" font-size="8.7" font-weight="bold"></text>
<text x="627" y="594.9" font-size="8.7" font-weight="bold">11KF</text>
<text x="623" y="697.9" font-size="8.7" font-weight="bold">R44</text>
<text x="623" y="707.9" font-size="8.7" font-weight="bold"></text>
<text x="618" y="707.9" font-size="8.7" font-weight="bold">76.8KF</text>
<text x="564" y="664.6" font-size="11" stroke="#000" stroke-width="0.2">IC4B</text>
<text x="561" y="677.6" font-size="11" stroke="#000" stroke-width="0.2">LM358</text>
<text x="525" y="681.8" font-size="8.5" text-anchor="middle" font-weight="bold">6</text>
<text x="525" y="702.8" font-size="8.5" text-anchor="middle" font-weight="bold">5</text>
<text x="605" y="692.8" font-size="8.5" text-anchor="middle" font-weight="bold">7</text>
<text x="509" y="748.9" font-size="8.7" font-weight="bold">D8</text>
<text x="568" y="748.9" font-size="8.7" font-weight="bold">D9</text>
<text x="600" y="748.9" font-size="8.7" font-weight="bold">D10</text>
<text x="662" y="748.9" font-size="8.7" font-weight="bold">D11</text>
<text x="570" y="775.8" font-size="8.5" font-weight="bold">4 X IN4004</text>
<text x="709" y="550.9" font-size="8.7" font-weight="bold">R46</text>
<text x="709" y="561.9" font-size="8.7" font-weight="bold"></text>
<text x="704" y="561.9" font-size="8.7" font-weight="bold">39.2KF</text>
<text x="804" y="533.9" font-size="8.7" font-weight="bold">C18</text>
<text x="804" y="544.9" font-size="8.7" font-weight="bold"></text>
<text x="805" y="544.9" font-size="8.7" font-weight="bold">103</text>
<text x="752" y="560.6" font-size="11" stroke="#000" stroke-width="0.2">IC5B</text>
<text x="750" y="573.6" font-size="11" stroke="#000" stroke-width="0.2">LM358</text>
<text x="705" y="578.8" font-size="8.5" text-anchor="middle" font-weight="bold">5</text>
<text x="705" y="599.8" font-size="8.5" text-anchor="middle" font-weight="bold">6</text>
<text x="784" y="588.8" font-size="8.5" text-anchor="middle" font-weight="bold">7</text>
<text x="750" y="635.9" font-size="8.7" font-weight="bold">R47</text>
<text x="750" y="646.9" font-size="8.7" font-weight="bold"></text>
<text x="746" y="646.9" font-size="8.7" font-weight="bold">4.11KF</text>
<text x="644" y="607.9" font-size="8.7" font-weight="bold">R45</text>
<text x="644" y="617.9" font-size="8.7" font-weight="bold"></text>
<text x="640" y="617.9" font-size="8.7" font-weight="bold">39.2KF</text>
<text x="629" y="663.9" font-size="8.7" font-weight="bold">C17</text>
<text x="629" y="674.9" font-size="8.7" font-weight="bold"></text>
<text x="630" y="674.9" font-size="8.7" font-weight="bold">103</text>
<text x="700" y="649.9" font-size="8.7" font-weight="bold">R48</text>
<text x="700" y="660.9" font-size="8.7" font-weight="bold"></text>
<text x="699" y="660.9" font-size="8.7" font-weight="bold">1.91KF</text>
<text x="808" y="647.9" font-size="8.7" font-weight="bold">R49</text>
<text x="808" y="658.9" font-size="8.7" font-weight="bold"></text>
<text x="807" y="658.9" font-size="8.7" font-weight="bold">10KF</text>
<text x="773" y="683.8" font-size="8.5" text-anchor="middle" font-weight="bold">3</text>
<text x="773" y="704.8" font-size="8.5" text-anchor="middle" font-weight="bold">2</text>
<text x="688" y="707.6" font-size="11" stroke="#000" stroke-width="0.2">IC5A</text>
<text x="686" y="720.6" font-size="11" stroke="#000" stroke-width="0.2">LM358</text>
<text x="724" y="741.9" font-size="8.7" font-weight="bold">VR3</text>
<text x="724" y="752.9" font-size="8.7" font-weight="bold"></text>
<text x="725" y="752.9" font-size="8.7" font-weight="bold">201</text>
<text x="760" y="741.9" font-size="8.7" font-weight="bold">R50</text>
<text x="760" y="752.9" font-size="8.7" font-weight="bold"></text>
<text x="760" y="752.9" font-size="8.7" font-weight="bold">200F</text>
<text x="945" y="420.8" font-size="8.5" text-anchor="middle" font-weight="bold">V+</text>
<text x="886" y="458.9" font-size="8.7" font-weight="bold">R65</text>
<text x="886" y="470.9" font-size="8.7" font-weight="bold">33KF</text>
<text x="881" y="495.9" font-size="8.7" font-weight="bold">VR4</text>
<text x="881" y="506.9" font-size="8.7" font-weight="bold">201</text>
<text x="886" y="553.9" font-size="8.7" font-weight="bold">R66</text>
<text x="886" y="564.9" font-size="8.7" font-weight="bold">380F</text>
<text x="950" y="458.9" font-size="8.7" font-weight="bold">R67</text>
<text x="950" y="470.9" font-size="8.7" font-weight="bold">33KF</text>
<text x="923" y="495.9" font-size="8.7" font-weight="bold">D13</text>
<text x="946" y="495.8" font-size="8.5" font-weight="bold">IN4148</text>
<text x="952" y="553.9" font-size="8.7" font-weight="bold">R68</text>
<text x="952" y="564.9" font-size="8.7" font-weight="bold">560F</text>
<text x="983" y="458.9" font-size="8.7" font-weight="bold">R69</text>
<text x="983" y="470.9" font-size="8.7" font-weight="bold">100KJ</text>
<text x="1031" y="443.6" font-size="11" text-anchor="middle" font-weight="bold">+</text>
<text x="1031" y="485.6" font-size="11" text-anchor="middle" font-weight="bold">–</text>
<text x="1022" y="466.9" font-size="15" stroke="#000" stroke-width="0.2">K</text>
<text x="1014" y="522.9" font-size="8.7" font-weight="bold">VR6</text>
<text x="1014" y="533.9" font-size="8.7" font-weight="bold">102</text>
<text x="1050" y="554.9" font-size="8.7" font-weight="bold">R86</text>
<text x="1050" y="565.9" font-size="8.7" font-weight="bold">1MJ</text>
<text x="1011" y="591.9" font-size="8.7" font-weight="bold">R83</text>
<text x="1011" y="602.9" font-size="8.7" font-weight="bold"></text>
<text x="1010" y="602.9" font-size="8.7" font-weight="bold">10KF</text>
<text x="1052" y="583.9" font-size="8.7" font-weight="bold">C25</text>
<text x="1052" y="594.9" font-size="8.7" font-weight="bold"></text>
<text x="1053" y="594.9" font-size="8.7" font-weight="bold">184</text>
<text x="1094" y="583.9" font-size="8.7" font-weight="bold">C26</text>
<text x="1094" y="594.9" font-size="8.7" font-weight="bold"></text>
<text x="1096" y="594.9" font-size="8.7" font-weight="bold">184</text>
<text x="1055" y="429.8" font-size="20.5" stroke="#000" stroke-width="0.5" font-family="Liberation Sans">NPN</text>
<text x="1159" y="429.8" font-size="20.5" stroke="#000" stroke-width="0.5" font-family="Liberation Sans">PNP</text>
<text x="1141" y="420.8" font-size="8.5" text-anchor="middle" font-weight="bold">V+</text>
<text x="1072" y="464.9" font-size="8.7" font-weight="bold">R53</text>
<text x="1072" y="475.4" font-size="8.7" font-weight="bold">220KJ</text>
<text x="1186" y="479.9" font-size="8.7" font-weight="bold">R51</text>
<text x="1186" y="490.9" font-size="8.7" font-weight="bold"></text>
<text x="1185" y="490.9" font-size="8.7" font-weight="bold">220KJ</text>
<text x="1122" y="527.9" font-size="8.7" font-weight="bold">R52</text>
<text x="1122" y="538.9" font-size="8.7" font-weight="bold">10J</text>
<text x="1176" y="309.9" font-size="8.7" font-weight="bold">R57</text>
<text x="1176" y="320.9" font-size="8.7" font-weight="bold">1MJ</text>
<text x="1428" y="737.3" font-size="8.5" text-anchor="middle" font-weight="bold">1</text>
<text x="1428" y="716.2" font-size="8.5" text-anchor="middle" font-weight="bold">2</text>
<text x="1428" y="695.2" font-size="8.5" text-anchor="middle" font-weight="bold">3</text>
<text x="1428" y="674.1" font-size="8.5" text-anchor="middle" font-weight="bold">4</text>
<text x="1428" y="653.1" font-size="8.5" text-anchor="middle" font-weight="bold">5</text>
<text x="1428" y="632" font-size="8.5" text-anchor="middle" font-weight="bold">6</text>
<text x="1428" y="611" font-size="8.5" text-anchor="middle" font-weight="bold">7</text>
<text x="1428" y="589.9" font-size="8.5" text-anchor="middle" font-weight="bold">8</text>
<text x="1428" y="568.9" font-size="8.5" text-anchor="middle" font-weight="bold">9</text>
<text x="1428" y="547.8" font-size="8.5" text-anchor="middle" font-weight="bold">10</text>
<text x="1428" y="526.8" font-size="8.5" text-anchor="middle" font-weight="bold">11</text>
<text x="1428" y="505.7" font-size="8.5" text-anchor="middle" font-weight="bold">12</text>
<text x="1428" y="484.7" font-size="8.5" text-anchor="middle" font-weight="bold">13</text>
<text x="1428" y="463.6" font-size="8.5" text-anchor="middle" font-weight="bold">14</text>
<text x="1428" y="442.6" font-size="8.5" text-anchor="middle" font-weight="bold">15</text>
<text x="1428" y="421.5" font-size="8.5" text-anchor="middle" font-weight="bold">16</text>
<text x="1428" y="400.5" font-size="8.5" text-anchor="middle" font-weight="bold">17</text>
<text x="1428" y="379.4" font-size="8.5" text-anchor="middle" font-weight="bold">18</text>
<text x="1428" y="358.4" font-size="8.5" text-anchor="middle" font-weight="bold">19</text>
<text x="1428" y="337.3" font-size="8.5" text-anchor="middle" font-weight="bold">20</text>
<text x="1301" y="337.3" font-size="8.5" text-anchor="middle" font-weight="bold">21</text>
<text x="1301" y="358.4" font-size="8.5" text-anchor="middle" font-weight="bold">22</text>
<text x="1301" y="379.4" font-size="8.5" text-anchor="middle" font-weight="bold">23</text>
<text x="1301" y="400.5" font-size="8.5" text-anchor="middle" font-weight="bold">24</text>
<text x="1301" y="421.5" font-size="8.5" text-anchor="middle" font-weight="bold">25</text>
<text x="1301" y="442.6" font-size="8.5" text-anchor="middle" font-weight="bold">26</text>
<text x="1301" y="463.6" font-size="8.5" text-anchor="middle" font-weight="bold">27</text>
<text x="1301" y="484.7" font-size="8.5" text-anchor="middle" font-weight="bold">28</text>
<text x="1301" y="505.7" font-size="8.5" text-anchor="middle" font-weight="bold">29</text>
<text x="1301" y="526.8" font-size="8.5" text-anchor="middle" font-weight="bold">30</text>
<text x="1301" y="547.8" font-size="8.5" text-anchor="middle" font-weight="bold">31</text>
<text x="1301" y="568.9" font-size="8.5" text-anchor="middle" font-weight="bold">32</text>
<text x="1301" y="589.9" font-size="8.5" text-anchor="middle" font-weight="bold">33</text>
<text x="1301" y="611" font-size="8.5" text-anchor="middle" font-weight="bold">34</text>
<text x="1301" y="632" font-size="8.5" text-anchor="middle" font-weight="bold">35</text>
<text x="1301" y="653.1" font-size="8.5" text-anchor="middle" font-weight="bold">36</text>
<text x="1301" y="674.1" font-size="8.5" text-anchor="middle" font-weight="bold">37</text>
<text x="1301" y="695.2" font-size="8.5" text-anchor="middle" font-weight="bold">38</text>
<text x="1301" y="716.2" font-size="8.5" text-anchor="middle" font-weight="bold">39</text>
<text x="1301" y="737.3" font-size="8.5" text-anchor="middle" font-weight="bold">40</text>
<text x="1231" y="447.8" font-size="8.5" text-anchor="end" font-weight="bold">V-</text>
<text x="1248" y="458.9" font-size="8.7" font-weight="bold">C1</text>
<text x="1271" y="458.9" font-size="8.7" font-weight="bold">184</text>
<text x="1238" y="479.9" font-size="8.7" font-weight="bold">R58</text>
<text x="1270" y="479.9" font-size="8.7" font-weight="bold">47KJ</text>
<text x="1248" y="500.9" font-size="8.7" font-weight="bold">C2</text>
<text x="1271" y="500.9" font-size="8.7" font-weight="bold">184</text>
<text x="1248" y="538.9" font-size="8.7" font-weight="bold">C3</text>
<text x="1271" y="538.9" font-size="8.7" font-weight="bold">103</text>
<text x="1248" y="600.9" font-size="8.7" font-weight="bold">C4</text>
<text x="1271" y="600.9" font-size="8.7" font-weight="bold">104</text>
<text x="1236" y="648.9" font-size="8.7" font-weight="bold">R59  100KJ</text>
<text x="1235" y="680.9" font-size="8.7" font-weight="bold">C5</text>
<text x="1235" y="691.4" font-size="8.7" font-weight="bold">100P</text>
<text x="1235" y="733.4" font-size="8.7" font-weight="bold">R60  100KJ</text>
<text x="1466" y="743.8" font-size="8.5" font-weight="bold">V+</text>
<text x="1404" y="795.9" font-size="8.7" font-weight="bold">VR5</text>
<text x="1404" y="806.9" font-size="8.7" font-weight="bold"></text>
<text x="1406" y="806.9" font-size="8.7" font-weight="bold">103</text>
<text x="1315" y="795.9" font-size="8.7" font-weight="bold">R70</text>
<text x="1315" y="806.9" font-size="8.7" font-weight="bold"></text>
<text x="1314" y="806.9" font-size="8.7" font-weight="bold">90KF</text>
<text x="1229" y="779.9" font-size="8.7" font-weight="bold">R71</text>
<text x="1229" y="790.9" font-size="8.7" font-weight="bold"></text>
<text x="1227" y="790.9" font-size="8.7" font-weight="bold">1.3KF</text>
<text x="1319" y="343.3" font-size="8.5" font-weight="bold">BP</text>
<text x="1319" y="448.1" font-size="8.5" font-weight="bold">V-</text>
<text x="1319" y="469.1" font-size="8.5" font-weight="bold">INT</text>
<text x="1319" y="490.2" font-size="8.5" font-weight="bold">BUF</text>
<text x="1319" y="511.2" font-size="8.5" font-weight="bold">Caz</text>
<text x="1319" y="532.3" font-size="8.5" font-weight="bold">IN-</text>
<text x="1319" y="553.3" font-size="8.5" font-weight="bold">IN+</text>
<text x="1319" y="574.4" font-size="8.5" font-weight="bold">COM</text>
<text x="1319" y="595.4" font-size="8.5" font-weight="bold">Cref-</text>
<text x="1319" y="616.5" font-size="8.5" font-weight="bold">Cref+</text>
<text x="1319" y="637.5" font-size="8.5" font-weight="bold">Vref-</text>
<text x="1319" y="658.6" font-size="8.5" font-weight="bold">Vref+</text>
<text x="1319" y="679.6" font-size="8.5" font-weight="bold">TEST</text>
<text x="1319" y="700.7" font-size="8.5" font-weight="bold">OSC3</text>
<text x="1319" y="721.7" font-size="8.5" font-weight="bold">OSC2</text>
<text x="1319" y="742.8" font-size="8.5" font-weight="bold">OSC1</text>
<text x="1398" y="743.8" font-size="8.5" font-weight="bold">V+</text>
<text x="1160" y="768.9" font-size="8.7" font-weight="bold">C6</text>
<text x="1160" y="779.9" font-size="8.7" font-weight="bold">104</text>
<text x="1097" y="690.8" font-size="8.5" font-weight="bold">V+</text>
<text x="979" y="690.8" font-size="8.5" font-weight="bold">GND</text>
<text x="1032" y="690.8" font-size="8.5" text-anchor="end" font-weight="bold">Vcc</text>
<text x="965" y="685.3" font-size="8.5" text-anchor="middle" font-weight="bold">1</text>
<text x="1045" y="685.3" font-size="8.5" text-anchor="middle" font-weight="bold">8</text>
<text x="979" y="711.8" font-size="8.5" font-weight="bold">TRIG</text>
<text x="1032" y="711.8" font-size="8.5" text-anchor="end" font-weight="bold">DIS</text>
<text x="965" y="706.3" font-size="8.5" text-anchor="middle" font-weight="bold">2</text>
<text x="1045" y="706.3" font-size="8.5" text-anchor="middle" font-weight="bold">7</text>
<text x="979" y="732.8" font-size="8.5" font-weight="bold">Q</text>
<text x="1032" y="732.8" font-size="8.5" text-anchor="end" font-weight="bold">THR</text>
<text x="965" y="727.3" font-size="8.5" text-anchor="middle" font-weight="bold">3</text>
<text x="1045" y="727.3" font-size="8.5" text-anchor="middle" font-weight="bold">6</text>
<text x="979" y="753.8" font-size="8.5" font-weight="bold">R</text>
<text x="1032" y="753.8" font-size="8.5" text-anchor="end" font-weight="bold">CVolt</text>
<text x="965" y="748.3" font-size="8.5" text-anchor="middle" font-weight="bold">4</text>
<text x="1045" y="748.3" font-size="8.5" text-anchor="middle" font-weight="bold">5</text>
<text x="981" y="775.6" font-size="11" stroke="#000" stroke-width="0.2">IC8</text>
<text x="1006" y="775.6" font-size="11" stroke="#000" stroke-width="0.2">7555</text>
<text x="916" y="670.9" font-size="8.7" font-weight="bold">R82</text>
<text x="916" y="681.9" font-size="8.7" font-weight="bold">47KJ</text>
<text x="900" y="723.9" font-size="8.7" font-weight="bold">R84  11KF</text>
<text x="916" y="764.9" font-size="8.7" font-weight="bold">R85</text>
<text x="916" y="775.9" font-size="8.7" font-weight="bold">47KJ</text>
<text x="1017" y="647.9" font-size="8.7" font-weight="bold">C23</text>
<text x="1017" y="658.4" font-size="8.7" font-weight="bold">100P</text>
<text x="1087" y="759.9" font-size="8.7" font-weight="bold">R87</text>
<text x="1087" y="770.9" font-size="8.7" font-weight="bold">51KF</text>
<text x="1124" y="653.8" font-size="8.5" text-anchor="middle" font-weight="bold">V+</text>
<text x="1128" y="685.9" font-size="8.7" font-weight="bold">R55</text>
<text x="1128" y="696.9" font-size="8.7" font-weight="bold">13KF</text>
<text x="1096" y="733.9" font-size="8.7" font-weight="bold">VR1</text>
<text x="1096" y="744.9" font-size="8.7" font-weight="bold"></text>
<text x="1098" y="744.9" font-size="8.7" font-weight="bold">201</text>
<text x="1152" y="722.9" font-size="8.7" font-weight="bold">R56</text>
<text x="1152" y="733.4" font-size="8.7" font-weight="bold"></text>
<text x="1151" y="733.4" font-size="8.7" font-weight="bold">10KJ</text>
<text x="1130" y="785.9" font-size="8.7" font-weight="bold">R54</text>
<text x="1130" y="796.9" font-size="8.7" font-weight="bold">380F</text>
<text x="332" y="750.8" font-size="8.5" font-weight="bold">V+</text>
<text x="265" y="767.9" font-size="8.7" font-weight="bold">R61</text>
<text x="265" y="787.9" font-size="8.7" font-weight="bold">10KJ</text>
<text x="329" y="766.9" font-size="8.7" font-weight="bold">R62</text>
<text x="351" y="765.9" font-size="8.7" font-weight="bold">1MF</text>
<text x="329" y="792.9" font-size="8.7" font-weight="bold">R64</text>
<text x="351" y="791.9" font-size="8.7" font-weight="bold">990KF</text>
<text x="329" y="819.9" font-size="8.7" font-weight="bold">R63</text>
<text x="329" y="839.9" font-size="8.7" font-weight="bold">10KF</text>
<text x="267" y="815.9" font-size="8.7" font-weight="bold">D12</text>
<text x="261" y="845.8" font-size="8.5" font-weight="bold">IN4148</text>
<text x="101" y="870.9" font-size="8.7" font-weight="bold">R79</text>
<text x="101" y="881.9" font-size="8.7" font-weight="bold">220KJ</text>
<text x="143" y="887.9" font-size="8.7" font-weight="bold">D17</text>
<text x="143" y="898.9" font-size="8.7" font-weight="bold"></text>
<text x="138" y="898.8" font-size="8.5" font-weight="bold">IN4148</text>
<text x="90" y="918.9" font-size="8.7" font-weight="bold">D16</text>
<text x="90" y="929.9" font-size="8.7" font-weight="bold"></text>
<text x="90" y="929.8" font-size="8.5" font-weight="bold">IN4148</text>
<text x="204" y="882.9" font-size="8.7" font-weight="bold">R80</text>
<text x="204" y="893.9" font-size="8.7" font-weight="bold"></text>
<text x="202" y="893.9" font-size="8.7" font-weight="bold">10MJ</text>
<text x="182" y="919.8" font-size="8.5" text-anchor="middle" font-weight="bold">5</text>
<text x="182" y="940.8" font-size="8.5" text-anchor="middle" font-weight="bold">6</text>
<text x="262" y="929.8" font-size="8.5" text-anchor="middle" font-weight="bold">7</text>
<text x="231" y="962.6" font-size="11" stroke="#000" stroke-width="0.2">IC7B</text>
<text x="229" y="975.1" font-size="11" stroke="#000" stroke-width="0.2">TL062</text>
<text x="282" y="913.9" font-size="8.7" font-weight="bold">R81</text>
<text x="282" y="924.9" font-size="8.7" font-weight="bold">47KJ</text>
<text x="320" y="929.8" font-size="8.5" text-anchor="middle" font-weight="bold">3</text>
<text x="320" y="950.8" font-size="8.5" text-anchor="middle" font-weight="bold">2</text>
<text x="401" y="938.8" font-size="8.5" text-anchor="middle" font-weight="bold">1</text>
<text x="348" y="896.6" font-size="11" stroke="#000" stroke-width="0.2">IC7A</text>
<text x="346" y="909.6" font-size="11" stroke="#000" stroke-width="0.2">TL062</text>
<text x="413" y="914.9" font-size="8.7" font-weight="bold">C24</text>
<text x="413" y="925.4" font-size="8.7" font-weight="bold">22P</text>
<text x="1386" y="920.4" font-size="30" font-weight="bold">M890G</text>
</g></svg>
</body></html>
